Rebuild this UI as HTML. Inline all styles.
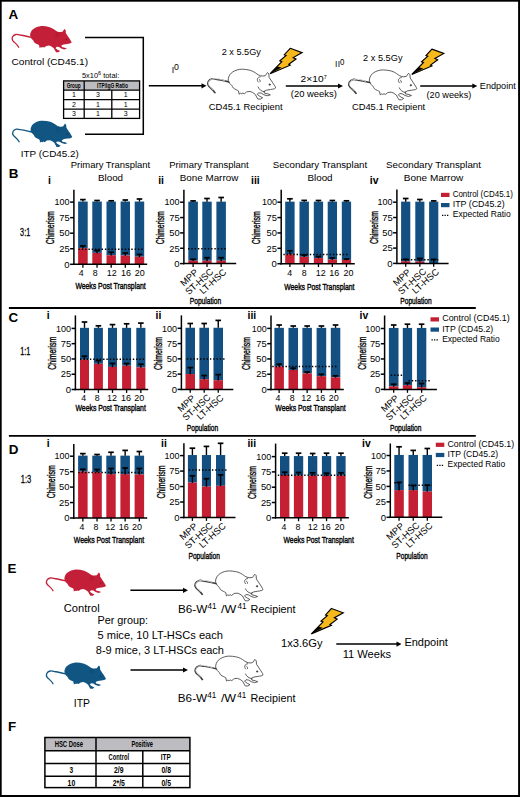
<!DOCTYPE html><html><head><meta charset="utf-8"><style>html,body{margin:0;padding:0;background:#fff;}svg{display:block;}text{font-family:"Liberation Sans", sans-serif;}</style></head><body>
<svg width="520" height="797" viewBox="0 0 520 797">
<rect x="0" y="0" width="520" height="797" fill="#fff"/>
<text x="8.50" y="19.00" font-size="13.40" font-weight="bold">A</text>
<g transform="translate(11.70,26.00) scale(1.000)">
<path d="M19.6,11.4 C15,10.2 11,9.2 8.3,9.0 C6.5,8.6 5.3,8.3 4.2,8.5 C0.8,9.3 -0.6,12.5 1.2,14.8 C2.8,16.8 5.6,18.2 7,21.2" fill="none" stroke="#c41f38" stroke-width="1.3" stroke-linecap="round"/>
<path d="M18.4,9.8 C18.3,7.4 19.2,5.2 21,3.5 C22.8,1.9 25,0.8 28.5,0.2 C31.5,-0.1 35,0.4 38.1,1.2 C39.8,1.8 41,2.5 42.1,3.2 C43.2,4.0 44,4.7 45,5.2 C46.2,5.8 47.5,6.1 48.5,6.1 L50.8,5.8 L52.8,3.0 L54.0,4.3 L54.2,7.2 C55,8.4 55.8,9.6 56.5,10.7 C57.4,12 58.2,13.2 58.8,14.2 C59.4,15.1 59.8,15.8 60,16.5 L58.8,17.3 C57.5,17.6 56.4,17.8 55.4,17.9 L51.9,18.5 L49.6,19.6 L50.2,21.1 L53.1,21.7 L55.3,22.6 L52.5,23.4 L49.6,22.5 L47.3,21.1 L45,20.8 L43.8,22.2 L46.2,24 L48.5,25.1 L46.7,26.3 L44.4,26.3 L43.3,24.5 L42.1,22.2 L39.8,20.5 L37.5,19.6 L34.6,19.9 L34.3,20.2 L32.5,21.6 L31.2,21.0 L30.2,21.6 L29.0,21.2 L27.9,22.0 L27.3,19.1 C26.5,18.6 26,18.4 25.6,18.2 C24.4,17.6 23.4,17.2 22.7,16.5 C22.2,15.8 21.9,15.1 21.6,14.5 C20.9,13.8 20.3,13.3 19.8,12.7 Z" fill="#c41f38"/>
<path d="M47.2,7.6 C44.8,6.4 43.2,8.6 45.0,11.3 M46.0,8.4 C47.2,8.8 47.6,10.0 47.0,11.0" fill="none" stroke="#000" stroke-opacity="0.25" stroke-width="0.55"/>
<ellipse cx="54.8" cy="13.6" rx="0.8" ry="0.6" fill="#000" fill-opacity="0.4"/>
</g>
<text x="11.50" y="64.70" font-size="9.90" textLength="76.50" lengthAdjust="spacingAndGlyphs">Control (CD45.1)</text>
<path d="M85,37.5 L143.3,37.5 L143.3,134.3 L85,134.3" fill="none" stroke="#000" stroke-width="1.5"/>
<text x="82.00" y="78.00" font-size="7.40">5x10<tspan dy="-2.6" font-size="5.6">6</tspan><tspan dy="2.6"> total:</tspan></text>
<rect x="63.60" y="80.90" width="76.00" height="9.30" fill="#bdbdc1"/>
<g stroke="#000" stroke-width="1.3" fill="none">
<rect x="63.60" y="80.90" width="76.00" height="37.50"/>
<line x1="63.60" y1="90.20" x2="139.60" y2="90.20"/>
<line x1="63.60" y1="99.60" x2="139.60" y2="99.60"/>
<line x1="63.60" y1="109.20" x2="139.60" y2="109.20"/>
<line x1="84.20" y1="80.90" x2="84.20" y2="118.40"/>
<line x1="111.80" y1="90.20" x2="111.80" y2="118.40"/>
</g>
<text x="73.60" y="87.50" font-size="6.60" text-anchor="middle" textLength="13.90" lengthAdjust="spacingAndGlyphs" font-weight="bold">Group</text>
<text x="112.50" y="87.50" font-size="6.60" text-anchor="middle" textLength="30.80" lengthAdjust="spacingAndGlyphs" font-weight="bold">ITP/IgG Ratio</text>
<text x="73.90" y="97.30" font-size="7.00" text-anchor="middle">1</text>
<text x="98.00" y="97.30" font-size="7.00" text-anchor="middle">3</text>
<text x="125.70" y="97.30" font-size="7.00" text-anchor="middle">1</text>
<text x="73.90" y="106.80" font-size="7.00" text-anchor="middle">2</text>
<text x="98.00" y="106.80" font-size="7.00" text-anchor="middle">1</text>
<text x="125.70" y="106.80" font-size="7.00" text-anchor="middle">1</text>
<text x="73.90" y="116.20" font-size="7.00" text-anchor="middle">3</text>
<text x="98.00" y="116.20" font-size="7.00" text-anchor="middle">1</text>
<text x="125.70" y="116.20" font-size="7.00" text-anchor="middle">3</text>
<g transform="translate(12.20,120.60) scale(1.000)">
<path d="M19.6,11.4 C15,10.2 11,9.2 8.3,9.0 C6.5,8.6 5.3,8.3 4.2,8.5 C0.8,9.3 -0.6,12.5 1.2,14.8 C2.8,16.8 5.6,18.2 7,21.2" fill="none" stroke="#115683" stroke-width="1.3" stroke-linecap="round"/>
<path d="M18.4,9.8 C18.3,7.4 19.2,5.2 21,3.5 C22.8,1.9 25,0.8 28.5,0.2 C31.5,-0.1 35,0.4 38.1,1.2 C39.8,1.8 41,2.5 42.1,3.2 C43.2,4.0 44,4.7 45,5.2 C46.2,5.8 47.5,6.1 48.5,6.1 L50.8,5.8 L52.8,3.0 L54.0,4.3 L54.2,7.2 C55,8.4 55.8,9.6 56.5,10.7 C57.4,12 58.2,13.2 58.8,14.2 C59.4,15.1 59.8,15.8 60,16.5 L58.8,17.3 C57.5,17.6 56.4,17.8 55.4,17.9 L51.9,18.5 L49.6,19.6 L50.2,21.1 L53.1,21.7 L55.3,22.6 L52.5,23.4 L49.6,22.5 L47.3,21.1 L45,20.8 L43.8,22.2 L46.2,24 L48.5,25.1 L46.7,26.3 L44.4,26.3 L43.3,24.5 L42.1,22.2 L39.8,20.5 L37.5,19.6 L34.6,19.9 L34.3,20.2 L32.5,21.6 L31.2,21.0 L30.2,21.6 L29.0,21.2 L27.9,22.0 L27.3,19.1 C26.5,18.6 26,18.4 25.6,18.2 C24.4,17.6 23.4,17.2 22.7,16.5 C22.2,15.8 21.9,15.1 21.6,14.5 C20.9,13.8 20.3,13.3 19.8,12.7 Z" fill="#115683"/>
<path d="M47.2,7.6 C44.8,6.4 43.2,8.6 45.0,11.3 M46.0,8.4 C47.2,8.8 47.6,10.0 47.0,11.0" fill="none" stroke="#000" stroke-opacity="0.25" stroke-width="0.55"/>
<ellipse cx="54.8" cy="13.6" rx="0.8" ry="0.6" fill="#000" fill-opacity="0.4"/>
</g>
<text x="20.80" y="156.80" font-size="9.90" textLength="58.00" lengthAdjust="spacingAndGlyphs">ITP (CD45.2)</text>
<line x1="148.80" y1="85.80" x2="202.00" y2="85.80" stroke="#000" stroke-width="1.50"/>
<path d="M206.50,85.80 L201.50,83.20 L201.50,88.40 Z" fill="#000"/>
<text x="171.80" y="72.70" font-size="8.80">I</text>
<text x="173.90" y="70.40" font-size="9.00" textLength="4.90" lengthAdjust="spacingAndGlyphs">0</text>
<text x="221.70" y="54.80" font-size="8.60" textLength="39.20" lengthAdjust="spacingAndGlyphs">2 x 5.5Gy</text>
<g transform="translate(207.30,69.10) scale(1.140)" fill="none" stroke="#3a3a3a" stroke-width="0.72" stroke-linejoin="round">
<path d="M19.6,11.4 C15,10.2 11,9.2 8.3,9.0 C6.5,8.6 5.3,8.3 4.2,8.5 C0.8,9.3 -0.6,12.5 1.2,14.8 C2.8,16.8 5.6,18.2 7,21.2" stroke-width="1.45"/>
<path d="M15.5,10.2 C12,9.0 8,7.8 4.4,8.6 C1.4,9.4 0.2,12.2 1.6,14.4 C2.8,16.2 4.4,17.4 5.4,18.6" stroke="#fff" stroke-width="0.6"/>
<path d="M18.4,9.8 C18.3,7.4 19.2,5.2 21,3.5 C22.8,1.9 25,0.8 28.5,0.2 C31.5,-0.1 35,0.4 38.1,1.2 C39.8,1.8 41,2.5 42.1,3.2 C43.2,4.0 44,4.7 45,5.2 C46.2,5.8 47.5,6.1 48.5,6.1 L50.8,5.8 L52.8,3.0 L54.0,4.3 L54.2,7.2 C55,8.4 55.8,9.6 56.5,10.7 C57.4,12 58.2,13.2 58.8,14.2 C59.4,15.1 59.8,15.8 60,16.5 L58.8,17.3 C57.5,17.6 56.4,17.8 55.4,17.9 L51.9,18.5 L49.6,19.6 L50.2,21.1 L53.1,21.7 L55.3,22.6 L52.5,23.4 L49.6,22.5 L47.3,21.1 L45,20.8 L43.8,22.2 L46.2,24 L48.5,25.1 L46.7,26.3 L44.4,26.3 L43.3,24.5 L42.1,22.2 L39.8,20.5 L37.5,19.6 L34.6,19.9 L34.3,20.2 L32.5,21.6 L31.2,21.0 L30.2,21.6 L29.0,21.2 L27.9,22.0 L27.3,19.1 C26.5,18.6 26,18.4 25.6,18.2 C24.4,17.6 23.4,17.2 22.7,16.5 C22.2,15.8 21.9,15.1 21.6,14.5 C20.9,13.8 20.3,13.3 19.8,12.7 Z" fill="#fff"/>
<path d="M46.8,6.8 C43.8,6.8 43.0,9.8 45.0,11.6 M45.4,9.0 C46.4,9.4 46.6,10.6 46.2,11.4"/>
<path d="M44.5,15.5 C45.5,18.0 47.5,19.5 50.6,20.0"/>
<circle cx="54.8" cy="13.6" r="0.6" fill="#333"/>
</g>
<g transform="translate(269.80,47.80) scale(1.000)">
<path d="M20.4,0.5 L32.3,4.8 L23.4,9.8 L26.2,11.2 L19.0,16.5 L20.4,17.4 L0.3,25.9 L12.0,13.9 L10.0,13.1 L16.3,7.6 L14.5,6.9 Z" fill="#f7b81c" stroke="#000" stroke-width="1.15" stroke-linejoin="miter"/>
<path d="M0.3,25.9 L7.4,18.6 L11.8,19.8 Z" fill="#000"/>
</g>
<text x="208.80" y="110.00" font-size="9.80" textLength="73.90" lengthAdjust="spacingAndGlyphs">CD45.1 Recipient</text>
<line x1="285.80" y1="86.00" x2="338.50" y2="86.00" stroke="#000" stroke-width="1.50"/>
<path d="M343.00,86.00 L338.00,83.40 L338.00,88.60 Z" fill="#000"/>
<text x="300.60" y="81.90" font-size="8.20" textLength="23.00" lengthAdjust="spacingAndGlyphs">2&#215;10</text>
<text x="323.80" y="79.00" font-size="5.80" textLength="3.00" lengthAdjust="spacingAndGlyphs">7</text>
<text x="290.80" y="97.40" font-size="9.00" textLength="46.00" lengthAdjust="spacingAndGlyphs">(20 weeks)</text>
<text x="334.90" y="67.20" font-size="8.40">I</text>
<text x="337.80" y="67.20" font-size="8.40">I</text>
<text x="339.90" y="64.90" font-size="8.40" textLength="4.40" lengthAdjust="spacingAndGlyphs">0</text>
<text x="363.10" y="60.80" font-size="8.60" textLength="39.40" lengthAdjust="spacingAndGlyphs">2 x 5.5Gy</text>
<g transform="translate(348.40,69.80) scale(1.140)" fill="none" stroke="#3a3a3a" stroke-width="0.72" stroke-linejoin="round">
<path d="M19.6,11.4 C15,10.2 11,9.2 8.3,9.0 C6.5,8.6 5.3,8.3 4.2,8.5 C0.8,9.3 -0.6,12.5 1.2,14.8 C2.8,16.8 5.6,18.2 7,21.2" stroke-width="1.45"/>
<path d="M15.5,10.2 C12,9.0 8,7.8 4.4,8.6 C1.4,9.4 0.2,12.2 1.6,14.4 C2.8,16.2 4.4,17.4 5.4,18.6" stroke="#fff" stroke-width="0.6"/>
<path d="M18.4,9.8 C18.3,7.4 19.2,5.2 21,3.5 C22.8,1.9 25,0.8 28.5,0.2 C31.5,-0.1 35,0.4 38.1,1.2 C39.8,1.8 41,2.5 42.1,3.2 C43.2,4.0 44,4.7 45,5.2 C46.2,5.8 47.5,6.1 48.5,6.1 L50.8,5.8 L52.8,3.0 L54.0,4.3 L54.2,7.2 C55,8.4 55.8,9.6 56.5,10.7 C57.4,12 58.2,13.2 58.8,14.2 C59.4,15.1 59.8,15.8 60,16.5 L58.8,17.3 C57.5,17.6 56.4,17.8 55.4,17.9 L51.9,18.5 L49.6,19.6 L50.2,21.1 L53.1,21.7 L55.3,22.6 L52.5,23.4 L49.6,22.5 L47.3,21.1 L45,20.8 L43.8,22.2 L46.2,24 L48.5,25.1 L46.7,26.3 L44.4,26.3 L43.3,24.5 L42.1,22.2 L39.8,20.5 L37.5,19.6 L34.6,19.9 L34.3,20.2 L32.5,21.6 L31.2,21.0 L30.2,21.6 L29.0,21.2 L27.9,22.0 L27.3,19.1 C26.5,18.6 26,18.4 25.6,18.2 C24.4,17.6 23.4,17.2 22.7,16.5 C22.2,15.8 21.9,15.1 21.6,14.5 C20.9,13.8 20.3,13.3 19.8,12.7 Z" fill="#fff"/>
<path d="M46.8,6.8 C43.8,6.8 43.0,9.8 45.0,11.6 M45.4,9.0 C46.4,9.4 46.6,10.6 46.2,11.4"/>
<path d="M44.5,15.5 C45.5,18.0 47.5,19.5 50.6,20.0"/>
<circle cx="54.8" cy="13.6" r="0.6" fill="#333"/>
</g>
<g transform="translate(411.50,48.60) scale(1.000)">
<path d="M20.4,0.5 L32.3,4.8 L23.4,9.8 L26.2,11.2 L19.0,16.5 L20.4,17.4 L0.3,25.9 L12.0,13.9 L10.0,13.1 L16.3,7.6 L14.5,6.9 Z" fill="#f7b81c" stroke="#000" stroke-width="1.15" stroke-linejoin="miter"/>
<path d="M0.3,25.9 L7.4,18.6 L11.8,19.8 Z" fill="#000"/>
</g>
<text x="351.90" y="110.00" font-size="9.80" textLength="73.30" lengthAdjust="spacingAndGlyphs">CD45.1 Recipient</text>
<line x1="420.20" y1="86.00" x2="472.80" y2="86.00" stroke="#000" stroke-width="1.50"/>
<path d="M477.30,86.00 L472.30,83.40 L472.30,88.60 Z" fill="#000"/>
<text x="426.50" y="98.00" font-size="9.00" textLength="44.80" lengthAdjust="spacingAndGlyphs">(20 weeks)</text>
<text x="479.80" y="89.00" font-size="9.20" textLength="36.00" lengthAdjust="spacingAndGlyphs">Endpoint</text>
<text x="8.80" y="177.90" font-size="13.40" font-weight="bold">B</text>
<text x="20.10" y="235.90" font-size="11.30" textLength="10.10" lengthAdjust="spacingAndGlyphs" stroke="#000" stroke-width="0.3">3:1</text>
<text x="110.50" y="168.20" font-size="9.60" text-anchor="middle" textLength="79.40" lengthAdjust="spacingAndGlyphs">Primary Transplant</text>
<text x="110.50" y="180.60" font-size="9.60" text-anchor="middle" textLength="25.20" lengthAdjust="spacingAndGlyphs">Blood</text>
<text x="209.00" y="168.20" font-size="9.60" text-anchor="middle" textLength="79.40" lengthAdjust="spacingAndGlyphs">Primary Transplant</text>
<text x="209.00" y="180.60" font-size="9.60" text-anchor="middle" textLength="58.50" lengthAdjust="spacingAndGlyphs">Bone Marrow</text>
<text x="320.00" y="168.20" font-size="9.60" text-anchor="middle" textLength="94.30" lengthAdjust="spacingAndGlyphs">Secondary Transplant</text>
<text x="320.00" y="180.60" font-size="9.60" text-anchor="middle" textLength="25.20" lengthAdjust="spacingAndGlyphs">Blood</text>
<text x="433.50" y="168.20" font-size="9.60" text-anchor="middle" textLength="95.00" lengthAdjust="spacingAndGlyphs">Secondary Transplant</text>
<text x="433.50" y="180.60" font-size="9.60" text-anchor="middle" textLength="59.50" lengthAdjust="spacingAndGlyphs">Bone Marrow</text>
<text x="48.00" y="184.20" font-size="10.40" font-weight="bold">i</text>
<text x="158.20" y="184.20" font-size="10.40" font-weight="bold">ii</text>
<text x="251.00" y="184.20" font-size="10.40" font-weight="bold">iii</text>
<text x="369.80" y="184.20" font-size="10.40" font-weight="bold">iv</text>
<rect x="78.10" y="201.54" width="9.60" height="46.65" fill="#134f81"/>
<rect x="78.10" y="248.19" width="9.60" height="16.11" fill="#c41f32"/>
<rect x="92.30" y="201.54" width="9.50" height="51.32" fill="#134f81"/>
<rect x="92.30" y="252.86" width="9.50" height="11.44" fill="#c41f32"/>
<rect x="106.50" y="201.54" width="9.40" height="53.68" fill="#134f81"/>
<rect x="106.50" y="255.22" width="9.40" height="9.08" fill="#c41f32"/>
<rect x="120.60" y="201.54" width="9.40" height="53.99" fill="#134f81"/>
<rect x="120.60" y="255.53" width="9.40" height="8.77" fill="#c41f32"/>
<rect x="134.70" y="201.54" width="9.50" height="55.17" fill="#134f81"/>
<rect x="134.70" y="256.71" width="9.50" height="7.59" fill="#c41f32"/>
<line x1="82.90" y1="201.54" x2="82.90" y2="199.60" stroke="#000" stroke-width="1.40"/>
<line x1="80.10" y1="199.60" x2="85.70" y2="199.60" stroke="#000" stroke-width="1.70"/>
<line x1="82.90" y1="246.00" x2="82.90" y2="248.49" stroke="#000" stroke-width="1.40"/>
<line x1="80.10" y1="246.00" x2="85.70" y2="246.00" stroke="#000" stroke-width="1.70"/>
<line x1="97.05" y1="201.54" x2="97.05" y2="200.50" stroke="#000" stroke-width="1.40"/>
<line x1="94.25" y1="200.50" x2="99.85" y2="200.50" stroke="#000" stroke-width="1.70"/>
<line x1="97.05" y1="250.50" x2="97.05" y2="253.16" stroke="#000" stroke-width="1.40"/>
<line x1="94.25" y1="250.50" x2="99.85" y2="250.50" stroke="#000" stroke-width="1.70"/>
<line x1="111.20" y1="201.54" x2="111.20" y2="200.80" stroke="#000" stroke-width="1.40"/>
<line x1="108.40" y1="200.80" x2="114.00" y2="200.80" stroke="#000" stroke-width="1.70"/>
<line x1="111.20" y1="252.20" x2="111.20" y2="255.52" stroke="#000" stroke-width="1.40"/>
<line x1="108.40" y1="252.20" x2="114.00" y2="252.20" stroke="#000" stroke-width="1.70"/>
<line x1="125.30" y1="201.54" x2="125.30" y2="200.00" stroke="#000" stroke-width="1.40"/>
<line x1="122.50" y1="200.00" x2="128.10" y2="200.00" stroke="#000" stroke-width="1.70"/>
<line x1="125.30" y1="253.00" x2="125.30" y2="255.83" stroke="#000" stroke-width="1.40"/>
<line x1="122.50" y1="253.00" x2="128.10" y2="253.00" stroke="#000" stroke-width="1.70"/>
<line x1="139.45" y1="201.54" x2="139.45" y2="199.00" stroke="#000" stroke-width="1.40"/>
<line x1="136.65" y1="199.00" x2="142.25" y2="199.00" stroke="#000" stroke-width="1.70"/>
<line x1="139.45" y1="254.40" x2="139.45" y2="257.01" stroke="#000" stroke-width="1.40"/>
<line x1="136.65" y1="254.40" x2="142.25" y2="254.40" stroke="#000" stroke-width="1.70"/>
<line x1="78.50" y1="249.30" x2="144.20" y2="249.30" stroke="#000" stroke-width="1.50" stroke-dasharray="1.4,1.9"/>
<line x1="73.90" y1="189.80" x2="73.90" y2="265.00" stroke="#000" stroke-width="1.50"/>
<line x1="73.15" y1="264.30" x2="147.20" y2="264.30" stroke="#000" stroke-width="1.50"/>
<line x1="70.10" y1="264.30" x2="73.90" y2="264.30" stroke="#000" stroke-width="1.50"/>
<text x="69.60" y="267.55" font-size="9.30" text-anchor="end" textLength="5.30" lengthAdjust="spacingAndGlyphs">0</text>
<line x1="70.10" y1="248.75" x2="73.90" y2="248.75" stroke="#000" stroke-width="1.50"/>
<text x="69.60" y="252.00" font-size="9.30" text-anchor="end" textLength="10.40" lengthAdjust="spacingAndGlyphs">25</text>
<line x1="70.10" y1="233.20" x2="73.90" y2="233.20" stroke="#000" stroke-width="1.50"/>
<text x="69.60" y="236.45" font-size="9.30" text-anchor="end" textLength="10.40" lengthAdjust="spacingAndGlyphs">50</text>
<line x1="70.10" y1="217.65" x2="73.90" y2="217.65" stroke="#000" stroke-width="1.50"/>
<text x="69.60" y="220.90" font-size="9.30" text-anchor="end" textLength="10.40" lengthAdjust="spacingAndGlyphs">75</text>
<line x1="70.10" y1="202.10" x2="73.90" y2="202.10" stroke="#000" stroke-width="1.50"/>
<text x="69.60" y="205.35" font-size="9.30" text-anchor="end" textLength="15.00" lengthAdjust="spacingAndGlyphs">100</text>
<line x1="82.90" y1="264.30" x2="82.90" y2="267.70" stroke="#000" stroke-width="1.30"/>
<line x1="97.05" y1="264.30" x2="97.05" y2="267.70" stroke="#000" stroke-width="1.30"/>
<line x1="111.20" y1="264.30" x2="111.20" y2="267.70" stroke="#000" stroke-width="1.30"/>
<line x1="125.30" y1="264.30" x2="125.30" y2="267.70" stroke="#000" stroke-width="1.30"/>
<line x1="139.45" y1="264.30" x2="139.45" y2="267.70" stroke="#000" stroke-width="1.30"/>
<text x="0.00" y="0.00" font-size="11.00" text-anchor="middle" textLength="33.00" lengthAdjust="spacingAndGlyphs" stroke="#000" stroke-width="0.35" transform="translate(53.60,227.80) rotate(-90)">Chimerism</text>
<text x="81.10" y="276.20" font-size="8.40" text-anchor="middle" textLength="4.90" lengthAdjust="spacingAndGlyphs">4</text>
<text x="95.25" y="276.20" font-size="8.40" text-anchor="middle" textLength="4.90" lengthAdjust="spacingAndGlyphs">8</text>
<text x="111.70" y="276.20" font-size="8.40" text-anchor="middle" textLength="10.00" lengthAdjust="spacingAndGlyphs">12</text>
<text x="126.00" y="276.20" font-size="8.40" text-anchor="middle" textLength="10.00" lengthAdjust="spacingAndGlyphs">16</text>
<text x="139.85" y="276.20" font-size="8.40" text-anchor="middle" textLength="10.00" lengthAdjust="spacingAndGlyphs">20</text>
<text x="75.40" y="289.30" font-size="9.60" textLength="70.30" lengthAdjust="spacingAndGlyphs" stroke="#000" stroke-width="0.4">Weeks Post Transplant</text>
<rect x="188.30" y="201.65" width="9.60" height="59.07" fill="#134f81"/>
<rect x="188.30" y="260.71" width="9.60" height="2.89" fill="#c41f32"/>
<rect x="202.30" y="201.65" width="9.40" height="59.07" fill="#134f81"/>
<rect x="202.30" y="260.71" width="9.40" height="2.89" fill="#c41f32"/>
<rect x="216.40" y="201.65" width="9.50" height="59.07" fill="#134f81"/>
<rect x="216.40" y="260.71" width="9.50" height="2.89" fill="#c41f32"/>
<line x1="193.10" y1="201.65" x2="193.10" y2="200.90" stroke="#000" stroke-width="1.40"/>
<line x1="190.30" y1="200.90" x2="195.90" y2="200.90" stroke="#000" stroke-width="1.70"/>
<line x1="193.10" y1="259.30" x2="193.10" y2="261.01" stroke="#000" stroke-width="1.40"/>
<line x1="190.30" y1="259.30" x2="195.90" y2="259.30" stroke="#000" stroke-width="1.70"/>
<line x1="207.00" y1="201.65" x2="207.00" y2="198.50" stroke="#000" stroke-width="1.40"/>
<line x1="204.20" y1="198.50" x2="209.80" y2="198.50" stroke="#000" stroke-width="1.70"/>
<line x1="207.00" y1="257.70" x2="207.00" y2="261.01" stroke="#000" stroke-width="1.40"/>
<line x1="204.20" y1="257.70" x2="209.80" y2="257.70" stroke="#000" stroke-width="1.70"/>
<line x1="221.15" y1="201.65" x2="221.15" y2="197.50" stroke="#000" stroke-width="1.40"/>
<line x1="218.35" y1="197.50" x2="223.95" y2="197.50" stroke="#000" stroke-width="1.70"/>
<line x1="221.15" y1="257.70" x2="221.15" y2="261.01" stroke="#000" stroke-width="1.40"/>
<line x1="218.35" y1="257.70" x2="223.95" y2="257.70" stroke="#000" stroke-width="1.70"/>
<line x1="188.00" y1="248.70" x2="226.30" y2="248.70" stroke="#000" stroke-width="1.50" stroke-dasharray="1.4,1.9"/>
<line x1="183.90" y1="189.80" x2="183.90" y2="264.30" stroke="#000" stroke-width="1.50"/>
<line x1="183.15" y1="263.60" x2="236.20" y2="263.60" stroke="#000" stroke-width="1.50"/>
<line x1="180.10" y1="263.60" x2="183.90" y2="263.60" stroke="#000" stroke-width="1.50"/>
<text x="179.60" y="266.85" font-size="9.30" text-anchor="end" textLength="5.30" lengthAdjust="spacingAndGlyphs">0</text>
<line x1="180.10" y1="248.25" x2="183.90" y2="248.25" stroke="#000" stroke-width="1.50"/>
<text x="179.60" y="251.50" font-size="9.30" text-anchor="end" textLength="10.40" lengthAdjust="spacingAndGlyphs">25</text>
<line x1="180.10" y1="232.90" x2="183.90" y2="232.90" stroke="#000" stroke-width="1.50"/>
<text x="179.60" y="236.15" font-size="9.30" text-anchor="end" textLength="10.40" lengthAdjust="spacingAndGlyphs">50</text>
<line x1="180.10" y1="217.55" x2="183.90" y2="217.55" stroke="#000" stroke-width="1.50"/>
<text x="179.60" y="220.80" font-size="9.30" text-anchor="end" textLength="10.40" lengthAdjust="spacingAndGlyphs">75</text>
<line x1="180.10" y1="202.20" x2="183.90" y2="202.20" stroke="#000" stroke-width="1.50"/>
<text x="179.60" y="205.45" font-size="9.30" text-anchor="end" textLength="15.00" lengthAdjust="spacingAndGlyphs">100</text>
<line x1="193.10" y1="263.60" x2="193.10" y2="267.00" stroke="#000" stroke-width="1.30"/>
<line x1="207.00" y1="263.60" x2="207.00" y2="267.00" stroke="#000" stroke-width="1.30"/>
<line x1="221.15" y1="263.60" x2="221.15" y2="267.00" stroke="#000" stroke-width="1.30"/>
<text x="0.00" y="0.00" font-size="11.00" text-anchor="middle" textLength="33.00" lengthAdjust="spacingAndGlyphs" stroke="#000" stroke-width="0.35" transform="translate(164.30,227.80) rotate(-90)">Chimerism</text>
<text x="0.00" y="0.00" font-size="9.30" text-anchor="end" transform="translate(198.80,273.20) rotate(-42)">MPP</text>
<text x="0.00" y="0.00" font-size="9.30" text-anchor="end" transform="translate(214.05,272.50) rotate(-42)">ST-HSC</text>
<text x="0.00" y="0.00" font-size="9.30" text-anchor="end" transform="translate(227.10,272.90) rotate(-42)">LT-HSC</text>
<text x="189.80" y="303.60" font-size="9.70" textLength="31.40" lengthAdjust="spacingAndGlyphs" stroke="#000" stroke-width="0.4">Population</text>
<rect x="285.20" y="201.65" width="9.40" height="52.58" fill="#134f81"/>
<rect x="285.20" y="254.23" width="9.40" height="9.47" fill="#c41f32"/>
<rect x="299.50" y="201.65" width="9.40" height="55.17" fill="#134f81"/>
<rect x="299.50" y="256.81" width="9.40" height="6.89" fill="#c41f32"/>
<rect x="313.80" y="201.65" width="9.30" height="56.46" fill="#134f81"/>
<rect x="313.80" y="258.10" width="9.30" height="5.60" fill="#c41f32"/>
<rect x="327.70" y="201.65" width="9.30" height="57.93" fill="#134f81"/>
<rect x="327.70" y="259.58" width="9.30" height="4.12" fill="#c41f32"/>
<rect x="341.80" y="201.65" width="9.30" height="58.24" fill="#134f81"/>
<rect x="341.80" y="259.89" width="9.30" height="3.81" fill="#c41f32"/>
<line x1="289.90" y1="201.65" x2="289.90" y2="198.80" stroke="#000" stroke-width="1.40"/>
<line x1="287.10" y1="198.80" x2="292.70" y2="198.80" stroke="#000" stroke-width="1.70"/>
<line x1="289.90" y1="250.80" x2="289.90" y2="254.53" stroke="#000" stroke-width="1.40"/>
<line x1="287.10" y1="250.80" x2="292.70" y2="250.80" stroke="#000" stroke-width="1.70"/>
<line x1="304.20" y1="201.65" x2="304.20" y2="200.40" stroke="#000" stroke-width="1.40"/>
<line x1="301.40" y1="200.40" x2="307.00" y2="200.40" stroke="#000" stroke-width="1.70"/>
<line x1="304.20" y1="255.00" x2="304.20" y2="257.11" stroke="#000" stroke-width="1.40"/>
<line x1="301.40" y1="255.00" x2="307.00" y2="255.00" stroke="#000" stroke-width="1.70"/>
<line x1="318.45" y1="201.65" x2="318.45" y2="200.50" stroke="#000" stroke-width="1.40"/>
<line x1="315.65" y1="200.50" x2="321.25" y2="200.50" stroke="#000" stroke-width="1.70"/>
<line x1="318.45" y1="256.50" x2="318.45" y2="258.40" stroke="#000" stroke-width="1.40"/>
<line x1="315.65" y1="256.50" x2="321.25" y2="256.50" stroke="#000" stroke-width="1.70"/>
<line x1="332.35" y1="201.65" x2="332.35" y2="200.50" stroke="#000" stroke-width="1.40"/>
<line x1="329.55" y1="200.50" x2="335.15" y2="200.50" stroke="#000" stroke-width="1.70"/>
<line x1="332.35" y1="258.00" x2="332.35" y2="259.88" stroke="#000" stroke-width="1.40"/>
<line x1="329.55" y1="258.00" x2="335.15" y2="258.00" stroke="#000" stroke-width="1.70"/>
<line x1="346.45" y1="201.65" x2="346.45" y2="200.80" stroke="#000" stroke-width="1.40"/>
<line x1="343.65" y1="200.80" x2="349.25" y2="200.80" stroke="#000" stroke-width="1.70"/>
<line x1="346.45" y1="259.00" x2="346.45" y2="260.19" stroke="#000" stroke-width="1.40"/>
<line x1="343.65" y1="259.00" x2="349.25" y2="259.00" stroke="#000" stroke-width="1.70"/>
<line x1="283.40" y1="254.50" x2="349.50" y2="254.50" stroke="#000" stroke-width="1.50" stroke-dasharray="1.4,1.9"/>
<line x1="281.20" y1="189.80" x2="281.20" y2="264.40" stroke="#000" stroke-width="1.50"/>
<line x1="280.45" y1="263.70" x2="354.80" y2="263.70" stroke="#000" stroke-width="1.50"/>
<line x1="277.40" y1="263.70" x2="281.20" y2="263.70" stroke="#000" stroke-width="1.50"/>
<text x="276.90" y="266.95" font-size="9.30" text-anchor="end" textLength="5.30" lengthAdjust="spacingAndGlyphs">0</text>
<line x1="277.40" y1="248.32" x2="281.20" y2="248.32" stroke="#000" stroke-width="1.50"/>
<text x="276.90" y="251.57" font-size="9.30" text-anchor="end" textLength="10.40" lengthAdjust="spacingAndGlyphs">25</text>
<line x1="277.40" y1="232.95" x2="281.20" y2="232.95" stroke="#000" stroke-width="1.50"/>
<text x="276.90" y="236.20" font-size="9.30" text-anchor="end" textLength="10.40" lengthAdjust="spacingAndGlyphs">50</text>
<line x1="277.40" y1="217.57" x2="281.20" y2="217.57" stroke="#000" stroke-width="1.50"/>
<text x="276.90" y="220.82" font-size="9.30" text-anchor="end" textLength="10.40" lengthAdjust="spacingAndGlyphs">75</text>
<line x1="277.40" y1="202.20" x2="281.20" y2="202.20" stroke="#000" stroke-width="1.50"/>
<text x="276.90" y="205.45" font-size="9.30" text-anchor="end" textLength="15.00" lengthAdjust="spacingAndGlyphs">100</text>
<line x1="289.90" y1="263.70" x2="289.90" y2="267.10" stroke="#000" stroke-width="1.30"/>
<line x1="304.20" y1="263.70" x2="304.20" y2="267.10" stroke="#000" stroke-width="1.30"/>
<line x1="318.45" y1="263.70" x2="318.45" y2="267.10" stroke="#000" stroke-width="1.30"/>
<line x1="332.35" y1="263.70" x2="332.35" y2="267.10" stroke="#000" stroke-width="1.30"/>
<line x1="346.45" y1="263.70" x2="346.45" y2="267.10" stroke="#000" stroke-width="1.30"/>
<text x="0.00" y="0.00" font-size="11.00" text-anchor="middle" textLength="33.00" lengthAdjust="spacingAndGlyphs" stroke="#000" stroke-width="0.35" transform="translate(260.20,227.80) rotate(-90)">Chimerism</text>
<text x="289.60" y="276.20" font-size="8.40" text-anchor="middle" textLength="4.90" lengthAdjust="spacingAndGlyphs">4</text>
<text x="304.20" y="276.20" font-size="8.40" text-anchor="middle" textLength="4.90" lengthAdjust="spacingAndGlyphs">8</text>
<text x="320.65" y="276.20" font-size="8.40" text-anchor="middle" textLength="10.00" lengthAdjust="spacingAndGlyphs">12</text>
<text x="334.35" y="276.20" font-size="8.40" text-anchor="middle" textLength="10.00" lengthAdjust="spacingAndGlyphs">16</text>
<text x="348.45" y="276.20" font-size="8.40" text-anchor="middle" textLength="10.00" lengthAdjust="spacingAndGlyphs">20</text>
<text x="284.20" y="289.60" font-size="9.60" textLength="70.30" lengthAdjust="spacingAndGlyphs" stroke="#000" stroke-width="0.4">Weeks Post Transplant</text>
<rect x="401.10" y="201.65" width="9.20" height="59.61" fill="#134f81"/>
<rect x="401.10" y="261.26" width="9.20" height="2.14" fill="#c41f32"/>
<rect x="415.30" y="201.65" width="9.10" height="59.91" fill="#134f81"/>
<rect x="415.30" y="261.56" width="9.10" height="1.84" fill="#c41f32"/>
<rect x="429.10" y="201.65" width="9.20" height="61.38" fill="#134f81"/>
<rect x="429.10" y="263.03" width="9.20" height="0.37" fill="#c41f32"/>
<line x1="405.70" y1="201.65" x2="405.70" y2="198.50" stroke="#000" stroke-width="1.40"/>
<line x1="402.90" y1="198.50" x2="408.50" y2="198.50" stroke="#000" stroke-width="1.70"/>
<line x1="405.70" y1="259.30" x2="405.70" y2="261.56" stroke="#000" stroke-width="1.40"/>
<line x1="402.90" y1="259.30" x2="408.50" y2="259.30" stroke="#000" stroke-width="1.70"/>
<line x1="419.85" y1="201.65" x2="419.85" y2="199.50" stroke="#000" stroke-width="1.40"/>
<line x1="417.05" y1="199.50" x2="422.65" y2="199.50" stroke="#000" stroke-width="1.70"/>
<line x1="419.85" y1="258.40" x2="419.85" y2="261.86" stroke="#000" stroke-width="1.40"/>
<line x1="417.05" y1="258.40" x2="422.65" y2="258.40" stroke="#000" stroke-width="1.70"/>
<line x1="433.70" y1="201.65" x2="433.70" y2="200.90" stroke="#000" stroke-width="1.40"/>
<line x1="430.90" y1="200.90" x2="436.50" y2="200.90" stroke="#000" stroke-width="1.70"/>
<line x1="433.70" y1="259.40" x2="433.70" y2="263.33" stroke="#000" stroke-width="1.40"/>
<line x1="430.90" y1="259.40" x2="436.50" y2="259.40" stroke="#000" stroke-width="1.70"/>
<line x1="401.00" y1="259.70" x2="438.30" y2="259.70" stroke="#000" stroke-width="1.50" stroke-dasharray="1.4,1.9"/>
<line x1="396.90" y1="189.50" x2="396.90" y2="264.10" stroke="#000" stroke-width="1.50"/>
<line x1="396.15" y1="263.40" x2="448.60" y2="263.40" stroke="#000" stroke-width="1.50"/>
<line x1="393.10" y1="263.40" x2="396.90" y2="263.40" stroke="#000" stroke-width="1.50"/>
<text x="392.60" y="266.65" font-size="9.30" text-anchor="end" textLength="5.30" lengthAdjust="spacingAndGlyphs">0</text>
<line x1="393.10" y1="248.10" x2="396.90" y2="248.10" stroke="#000" stroke-width="1.50"/>
<text x="392.60" y="251.35" font-size="9.30" text-anchor="end" textLength="10.40" lengthAdjust="spacingAndGlyphs">25</text>
<line x1="393.10" y1="232.80" x2="396.90" y2="232.80" stroke="#000" stroke-width="1.50"/>
<text x="392.60" y="236.05" font-size="9.30" text-anchor="end" textLength="10.40" lengthAdjust="spacingAndGlyphs">50</text>
<line x1="393.10" y1="217.50" x2="396.90" y2="217.50" stroke="#000" stroke-width="1.50"/>
<text x="392.60" y="220.75" font-size="9.30" text-anchor="end" textLength="10.40" lengthAdjust="spacingAndGlyphs">75</text>
<line x1="393.10" y1="202.20" x2="396.90" y2="202.20" stroke="#000" stroke-width="1.50"/>
<text x="392.60" y="205.45" font-size="9.30" text-anchor="end" textLength="15.00" lengthAdjust="spacingAndGlyphs">100</text>
<line x1="405.70" y1="263.40" x2="405.70" y2="266.80" stroke="#000" stroke-width="1.30"/>
<line x1="419.85" y1="263.40" x2="419.85" y2="266.80" stroke="#000" stroke-width="1.30"/>
<line x1="433.70" y1="263.40" x2="433.70" y2="266.80" stroke="#000" stroke-width="1.30"/>
<text x="0.00" y="0.00" font-size="11.00" text-anchor="middle" textLength="33.00" lengthAdjust="spacingAndGlyphs" stroke="#000" stroke-width="0.35" transform="translate(377.50,227.50) rotate(-90)">Chimerism</text>
<text x="0.00" y="0.00" font-size="9.30" text-anchor="end" transform="translate(411.40,273.00) rotate(-42)">MPP</text>
<text x="0.00" y="0.00" font-size="9.30" text-anchor="end" transform="translate(426.90,272.30) rotate(-42)">ST-HSC</text>
<text x="0.00" y="0.00" font-size="9.30" text-anchor="end" transform="translate(439.65,272.70) rotate(-42)">LT-HSC</text>
<text x="400.30" y="303.60" font-size="9.70" textLength="31.40" lengthAdjust="spacingAndGlyphs" stroke="#000" stroke-width="0.4">Population</text>
<rect x="441.00" y="192.80" width="8.50" height="4.20" fill="#c41f32"/>
<text x="452.70" y="196.90" font-size="8.60" textLength="60.20" lengthAdjust="spacingAndGlyphs">Control (CD45.1)</text>
<rect x="441.00" y="203.00" width="8.50" height="4.20" fill="#134f81"/>
<text x="452.70" y="207.20" font-size="8.60" textLength="52.00" lengthAdjust="spacingAndGlyphs">ITP (CD45.2)</text>
<line x1="442.00" y1="215.40" x2="448.50" y2="215.40" stroke="#000" stroke-width="1.30" stroke-dasharray="1.3,1.2"/>
<text x="452.70" y="217.10" font-size="8.60" textLength="58.00" lengthAdjust="spacingAndGlyphs">Expected Ratio</text>
<line x1="8.90" y1="307.95" x2="475.80" y2="307.95" stroke="#000" stroke-width="1.90"/>
<text x="8.50" y="322.10" font-size="13.40" font-weight="bold">C</text>
<text x="20.20" y="355.20" font-size="11.30" textLength="10.10" lengthAdjust="spacingAndGlyphs" stroke="#000" stroke-width="0.3">1:1</text>
<text x="46.70" y="318.80" font-size="10.40" font-weight="bold">i</text>
<text x="155.50" y="318.80" font-size="10.40" font-weight="bold">ii</text>
<text x="247.50" y="318.80" font-size="10.40" font-weight="bold">iii</text>
<text x="359.50" y="318.80" font-size="10.40" font-weight="bold">iv</text>
<rect x="80.00" y="327.85" width="9.00" height="31.83" fill="#134f81"/>
<rect x="80.00" y="359.68" width="9.00" height="29.82" fill="#c41f32"/>
<rect x="93.90" y="327.85" width="9.00" height="35.93" fill="#134f81"/>
<rect x="93.90" y="363.78" width="9.00" height="25.72" fill="#c41f32"/>
<rect x="108.00" y="327.85" width="9.00" height="39.04" fill="#134f81"/>
<rect x="108.00" y="366.89" width="9.00" height="22.61" fill="#c41f32"/>
<rect x="122.10" y="327.85" width="9.00" height="37.88" fill="#134f81"/>
<rect x="122.10" y="365.73" width="9.00" height="23.77" fill="#c41f32"/>
<rect x="136.30" y="327.85" width="9.10" height="39.53" fill="#134f81"/>
<rect x="136.30" y="367.38" width="9.10" height="22.12" fill="#c41f32"/>
<line x1="84.50" y1="327.85" x2="84.50" y2="322.00" stroke="#000" stroke-width="1.40"/>
<line x1="81.70" y1="322.00" x2="87.30" y2="322.00" stroke="#000" stroke-width="1.70"/>
<line x1="84.50" y1="356.20" x2="84.50" y2="359.98" stroke="#000" stroke-width="1.40"/>
<line x1="81.70" y1="356.20" x2="87.30" y2="356.20" stroke="#000" stroke-width="1.70"/>
<line x1="98.40" y1="327.85" x2="98.40" y2="325.80" stroke="#000" stroke-width="1.40"/>
<line x1="95.60" y1="325.80" x2="101.20" y2="325.80" stroke="#000" stroke-width="1.70"/>
<line x1="98.40" y1="360.50" x2="98.40" y2="364.08" stroke="#000" stroke-width="1.40"/>
<line x1="95.60" y1="360.50" x2="101.20" y2="360.50" stroke="#000" stroke-width="1.70"/>
<line x1="112.50" y1="327.85" x2="112.50" y2="324.60" stroke="#000" stroke-width="1.40"/>
<line x1="109.70" y1="324.60" x2="115.30" y2="324.60" stroke="#000" stroke-width="1.70"/>
<line x1="112.50" y1="363.40" x2="112.50" y2="367.19" stroke="#000" stroke-width="1.40"/>
<line x1="109.70" y1="363.40" x2="115.30" y2="363.40" stroke="#000" stroke-width="1.70"/>
<line x1="126.60" y1="327.85" x2="126.60" y2="323.80" stroke="#000" stroke-width="1.40"/>
<line x1="123.80" y1="323.80" x2="129.40" y2="323.80" stroke="#000" stroke-width="1.70"/>
<line x1="126.60" y1="363.50" x2="126.60" y2="366.03" stroke="#000" stroke-width="1.40"/>
<line x1="123.80" y1="363.50" x2="129.40" y2="363.50" stroke="#000" stroke-width="1.70"/>
<line x1="140.85" y1="327.85" x2="140.85" y2="323.10" stroke="#000" stroke-width="1.40"/>
<line x1="138.05" y1="323.10" x2="143.65" y2="323.10" stroke="#000" stroke-width="1.70"/>
<line x1="140.85" y1="364.20" x2="140.85" y2="367.68" stroke="#000" stroke-width="1.40"/>
<line x1="138.05" y1="364.20" x2="143.65" y2="364.20" stroke="#000" stroke-width="1.70"/>
<line x1="80.00" y1="359.20" x2="145.40" y2="359.20" stroke="#000" stroke-width="1.50" stroke-dasharray="1.4,1.9"/>
<line x1="75.40" y1="315.40" x2="75.40" y2="390.20" stroke="#000" stroke-width="1.50"/>
<line x1="74.65" y1="389.50" x2="148.20" y2="389.50" stroke="#000" stroke-width="1.50"/>
<line x1="71.60" y1="389.50" x2="75.40" y2="389.50" stroke="#000" stroke-width="1.50"/>
<text x="71.10" y="392.75" font-size="9.30" text-anchor="end" textLength="5.30" lengthAdjust="spacingAndGlyphs">0</text>
<line x1="71.60" y1="374.23" x2="75.40" y2="374.23" stroke="#000" stroke-width="1.50"/>
<text x="71.10" y="377.48" font-size="9.30" text-anchor="end" textLength="10.40" lengthAdjust="spacingAndGlyphs">25</text>
<line x1="71.60" y1="358.95" x2="75.40" y2="358.95" stroke="#000" stroke-width="1.50"/>
<text x="71.10" y="362.20" font-size="9.30" text-anchor="end" textLength="10.40" lengthAdjust="spacingAndGlyphs">50</text>
<line x1="71.60" y1="343.67" x2="75.40" y2="343.67" stroke="#000" stroke-width="1.50"/>
<text x="71.10" y="346.92" font-size="9.30" text-anchor="end" textLength="10.40" lengthAdjust="spacingAndGlyphs">75</text>
<line x1="71.60" y1="328.40" x2="75.40" y2="328.40" stroke="#000" stroke-width="1.50"/>
<text x="71.10" y="331.65" font-size="9.30" text-anchor="end" textLength="15.00" lengthAdjust="spacingAndGlyphs">100</text>
<line x1="84.50" y1="389.50" x2="84.50" y2="392.90" stroke="#000" stroke-width="1.30"/>
<line x1="98.40" y1="389.50" x2="98.40" y2="392.90" stroke="#000" stroke-width="1.30"/>
<line x1="112.50" y1="389.50" x2="112.50" y2="392.90" stroke="#000" stroke-width="1.30"/>
<line x1="126.60" y1="389.50" x2="126.60" y2="392.90" stroke="#000" stroke-width="1.30"/>
<line x1="140.85" y1="389.50" x2="140.85" y2="392.90" stroke="#000" stroke-width="1.30"/>
<text x="0.00" y="0.00" font-size="11.00" text-anchor="middle" textLength="33.00" lengthAdjust="spacingAndGlyphs" stroke="#000" stroke-width="0.35" transform="translate(56.30,353.20) rotate(-90)">Chimerism</text>
<text x="83.80" y="400.80" font-size="8.40" text-anchor="middle" textLength="4.90" lengthAdjust="spacingAndGlyphs">4</text>
<text x="97.30" y="400.80" font-size="8.40" text-anchor="middle" textLength="4.90" lengthAdjust="spacingAndGlyphs">8</text>
<text x="112.10" y="400.80" font-size="8.40" text-anchor="middle" textLength="10.00" lengthAdjust="spacingAndGlyphs">12</text>
<text x="125.90" y="400.80" font-size="8.40" text-anchor="middle" textLength="10.00" lengthAdjust="spacingAndGlyphs">16</text>
<text x="139.15" y="400.80" font-size="8.40" text-anchor="middle" textLength="10.00" lengthAdjust="spacingAndGlyphs">20</text>
<text x="75.50" y="411.00" font-size="9.60" textLength="70.30" lengthAdjust="spacingAndGlyphs" stroke="#000" stroke-width="0.4">Weeks Post Transplant</text>
<rect x="185.50" y="327.75" width="9.50" height="46.31" fill="#134f81"/>
<rect x="185.50" y="374.06" width="9.50" height="15.34" fill="#c41f32"/>
<rect x="199.40" y="327.75" width="9.60" height="51.45" fill="#134f81"/>
<rect x="199.40" y="379.20" width="9.60" height="10.20" fill="#c41f32"/>
<rect x="213.50" y="327.75" width="9.50" height="52.48" fill="#134f81"/>
<rect x="213.50" y="380.23" width="9.50" height="9.17" fill="#c41f32"/>
<line x1="190.25" y1="327.75" x2="190.25" y2="323.50" stroke="#000" stroke-width="1.40"/>
<line x1="187.45" y1="323.50" x2="193.05" y2="323.50" stroke="#000" stroke-width="1.70"/>
<line x1="190.25" y1="367.60" x2="190.25" y2="374.36" stroke="#000" stroke-width="1.40"/>
<line x1="187.45" y1="367.60" x2="193.05" y2="367.60" stroke="#000" stroke-width="1.70"/>
<line x1="204.20" y1="327.75" x2="204.20" y2="323.50" stroke="#000" stroke-width="1.40"/>
<line x1="201.40" y1="323.50" x2="207.00" y2="323.50" stroke="#000" stroke-width="1.70"/>
<line x1="204.20" y1="375.50" x2="204.20" y2="379.50" stroke="#000" stroke-width="1.40"/>
<line x1="201.40" y1="375.50" x2="207.00" y2="375.50" stroke="#000" stroke-width="1.70"/>
<line x1="218.25" y1="327.75" x2="218.25" y2="320.40" stroke="#000" stroke-width="1.40"/>
<line x1="215.45" y1="320.40" x2="221.05" y2="320.40" stroke="#000" stroke-width="1.70"/>
<line x1="218.25" y1="374.60" x2="218.25" y2="380.53" stroke="#000" stroke-width="1.40"/>
<line x1="215.45" y1="374.60" x2="221.05" y2="374.60" stroke="#000" stroke-width="1.70"/>
<line x1="186.80" y1="359.10" x2="224.50" y2="359.10" stroke="#000" stroke-width="1.50" stroke-dasharray="1.4,1.9"/>
<line x1="181.40" y1="315.40" x2="181.40" y2="390.10" stroke="#000" stroke-width="1.50"/>
<line x1="180.65" y1="389.40" x2="233.30" y2="389.40" stroke="#000" stroke-width="1.50"/>
<line x1="177.60" y1="389.40" x2="181.40" y2="389.40" stroke="#000" stroke-width="1.50"/>
<text x="177.10" y="392.65" font-size="9.30" text-anchor="end" textLength="5.30" lengthAdjust="spacingAndGlyphs">0</text>
<line x1="177.60" y1="374.12" x2="181.40" y2="374.12" stroke="#000" stroke-width="1.50"/>
<text x="177.10" y="377.38" font-size="9.30" text-anchor="end" textLength="10.40" lengthAdjust="spacingAndGlyphs">25</text>
<line x1="177.60" y1="358.85" x2="181.40" y2="358.85" stroke="#000" stroke-width="1.50"/>
<text x="177.10" y="362.10" font-size="9.30" text-anchor="end" textLength="10.40" lengthAdjust="spacingAndGlyphs">50</text>
<line x1="177.60" y1="343.57" x2="181.40" y2="343.57" stroke="#000" stroke-width="1.50"/>
<text x="177.10" y="346.82" font-size="9.30" text-anchor="end" textLength="10.40" lengthAdjust="spacingAndGlyphs">75</text>
<line x1="177.60" y1="328.30" x2="181.40" y2="328.30" stroke="#000" stroke-width="1.50"/>
<text x="177.10" y="331.55" font-size="9.30" text-anchor="end" textLength="15.00" lengthAdjust="spacingAndGlyphs">100</text>
<line x1="190.25" y1="389.40" x2="190.25" y2="392.80" stroke="#000" stroke-width="1.30"/>
<line x1="204.20" y1="389.40" x2="204.20" y2="392.80" stroke="#000" stroke-width="1.30"/>
<line x1="218.25" y1="389.40" x2="218.25" y2="392.80" stroke="#000" stroke-width="1.30"/>
<text x="0.00" y="0.00" font-size="11.00" text-anchor="middle" textLength="33.00" lengthAdjust="spacingAndGlyphs" stroke="#000" stroke-width="0.35" transform="translate(161.80,353.50) rotate(-90)">Chimerism</text>
<text x="0.00" y="0.00" font-size="9.30" text-anchor="end" transform="translate(195.95,399.00) rotate(-42)">MPP</text>
<text x="0.00" y="0.00" font-size="9.30" text-anchor="end" transform="translate(211.25,398.30) rotate(-42)">ST-HSC</text>
<text x="0.00" y="0.00" font-size="9.30" text-anchor="end" transform="translate(224.20,398.70) rotate(-42)">LT-HSC</text>
<text x="186.80" y="430.50" font-size="9.70" textLength="31.40" lengthAdjust="spacingAndGlyphs" stroke="#000" stroke-width="0.4">Population</text>
<rect x="274.40" y="327.85" width="9.50" height="38.62" fill="#134f81"/>
<rect x="274.40" y="366.47" width="9.50" height="23.03" fill="#c41f32"/>
<rect x="288.50" y="327.85" width="9.50" height="42.10" fill="#134f81"/>
<rect x="288.50" y="369.95" width="9.50" height="19.55" fill="#c41f32"/>
<rect x="302.40" y="327.85" width="9.50" height="45.52" fill="#134f81"/>
<rect x="302.40" y="373.37" width="9.50" height="16.13" fill="#c41f32"/>
<rect x="316.60" y="327.85" width="9.60" height="48.33" fill="#134f81"/>
<rect x="316.60" y="376.18" width="9.60" height="13.32" fill="#c41f32"/>
<rect x="330.80" y="327.85" width="9.50" height="49.55" fill="#134f81"/>
<rect x="330.80" y="377.40" width="9.50" height="12.10" fill="#c41f32"/>
<line x1="279.15" y1="327.85" x2="279.15" y2="325.00" stroke="#000" stroke-width="1.40"/>
<line x1="276.35" y1="325.00" x2="281.95" y2="325.00" stroke="#000" stroke-width="1.70"/>
<line x1="279.15" y1="364.20" x2="279.15" y2="366.77" stroke="#000" stroke-width="1.40"/>
<line x1="276.35" y1="364.20" x2="281.95" y2="364.20" stroke="#000" stroke-width="1.70"/>
<line x1="293.25" y1="327.85" x2="293.25" y2="326.00" stroke="#000" stroke-width="1.40"/>
<line x1="290.45" y1="326.00" x2="296.05" y2="326.00" stroke="#000" stroke-width="1.70"/>
<line x1="293.25" y1="368.20" x2="293.25" y2="370.25" stroke="#000" stroke-width="1.40"/>
<line x1="290.45" y1="368.20" x2="296.05" y2="368.20" stroke="#000" stroke-width="1.70"/>
<line x1="307.15" y1="327.85" x2="307.15" y2="326.00" stroke="#000" stroke-width="1.40"/>
<line x1="304.35" y1="326.00" x2="309.95" y2="326.00" stroke="#000" stroke-width="1.70"/>
<line x1="307.15" y1="372.00" x2="307.15" y2="373.67" stroke="#000" stroke-width="1.40"/>
<line x1="304.35" y1="372.00" x2="309.95" y2="372.00" stroke="#000" stroke-width="1.70"/>
<line x1="321.40" y1="327.85" x2="321.40" y2="326.00" stroke="#000" stroke-width="1.40"/>
<line x1="318.60" y1="326.00" x2="324.20" y2="326.00" stroke="#000" stroke-width="1.70"/>
<line x1="321.40" y1="374.30" x2="321.40" y2="376.48" stroke="#000" stroke-width="1.40"/>
<line x1="318.60" y1="374.30" x2="324.20" y2="374.30" stroke="#000" stroke-width="1.70"/>
<line x1="335.55" y1="327.85" x2="335.55" y2="325.00" stroke="#000" stroke-width="1.40"/>
<line x1="332.75" y1="325.00" x2="338.35" y2="325.00" stroke="#000" stroke-width="1.70"/>
<line x1="335.55" y1="375.80" x2="335.55" y2="377.70" stroke="#000" stroke-width="1.40"/>
<line x1="332.75" y1="375.80" x2="338.35" y2="375.80" stroke="#000" stroke-width="1.70"/>
<line x1="272.30" y1="366.50" x2="337.70" y2="366.50" stroke="#000" stroke-width="1.50" stroke-dasharray="1.4,1.9"/>
<line x1="271.00" y1="315.40" x2="271.00" y2="390.20" stroke="#000" stroke-width="1.50"/>
<line x1="270.25" y1="389.50" x2="343.80" y2="389.50" stroke="#000" stroke-width="1.50"/>
<line x1="267.20" y1="389.50" x2="271.00" y2="389.50" stroke="#000" stroke-width="1.50"/>
<text x="266.70" y="392.75" font-size="9.30" text-anchor="end" textLength="5.30" lengthAdjust="spacingAndGlyphs">0</text>
<line x1="267.20" y1="374.23" x2="271.00" y2="374.23" stroke="#000" stroke-width="1.50"/>
<text x="266.70" y="377.48" font-size="9.30" text-anchor="end" textLength="10.40" lengthAdjust="spacingAndGlyphs">25</text>
<line x1="267.20" y1="358.95" x2="271.00" y2="358.95" stroke="#000" stroke-width="1.50"/>
<text x="266.70" y="362.20" font-size="9.30" text-anchor="end" textLength="10.40" lengthAdjust="spacingAndGlyphs">50</text>
<line x1="267.20" y1="343.67" x2="271.00" y2="343.67" stroke="#000" stroke-width="1.50"/>
<text x="266.70" y="346.92" font-size="9.30" text-anchor="end" textLength="10.40" lengthAdjust="spacingAndGlyphs">75</text>
<line x1="267.20" y1="328.40" x2="271.00" y2="328.40" stroke="#000" stroke-width="1.50"/>
<text x="266.70" y="331.65" font-size="9.30" text-anchor="end" textLength="15.00" lengthAdjust="spacingAndGlyphs">100</text>
<line x1="279.15" y1="389.50" x2="279.15" y2="392.90" stroke="#000" stroke-width="1.30"/>
<line x1="293.25" y1="389.50" x2="293.25" y2="392.90" stroke="#000" stroke-width="1.30"/>
<line x1="307.15" y1="389.50" x2="307.15" y2="392.90" stroke="#000" stroke-width="1.30"/>
<line x1="321.40" y1="389.50" x2="321.40" y2="392.90" stroke="#000" stroke-width="1.30"/>
<line x1="335.55" y1="389.50" x2="335.55" y2="392.90" stroke="#000" stroke-width="1.30"/>
<text x="0.00" y="0.00" font-size="11.00" text-anchor="middle" textLength="33.00" lengthAdjust="spacingAndGlyphs" stroke="#000" stroke-width="0.35" transform="translate(250.20,353.50) rotate(-90)">Chimerism</text>
<text x="277.95" y="400.80" font-size="8.40" text-anchor="middle" textLength="4.90" lengthAdjust="spacingAndGlyphs">4</text>
<text x="292.25" y="400.80" font-size="8.40" text-anchor="middle" textLength="4.90" lengthAdjust="spacingAndGlyphs">8</text>
<text x="306.25" y="400.80" font-size="8.40" text-anchor="middle" textLength="10.00" lengthAdjust="spacingAndGlyphs">12</text>
<text x="320.20" y="400.80" font-size="8.40" text-anchor="middle" textLength="10.00" lengthAdjust="spacingAndGlyphs">16</text>
<text x="333.65" y="400.80" font-size="8.40" text-anchor="middle" textLength="10.00" lengthAdjust="spacingAndGlyphs">20</text>
<text x="275.30" y="411.00" font-size="9.60" textLength="70.30" lengthAdjust="spacingAndGlyphs" stroke="#000" stroke-width="0.4">Weeks Post Transplant</text>
<rect x="388.90" y="327.95" width="9.60" height="58.40" fill="#134f81"/>
<rect x="388.90" y="386.35" width="9.60" height="3.05" fill="#c41f32"/>
<rect x="402.80" y="327.95" width="9.30" height="57.19" fill="#134f81"/>
<rect x="402.80" y="385.14" width="9.30" height="4.26" fill="#c41f32"/>
<rect x="416.90" y="327.95" width="9.40" height="59.26" fill="#134f81"/>
<rect x="416.90" y="387.21" width="9.40" height="2.19" fill="#c41f32"/>
<line x1="393.70" y1="327.95" x2="393.70" y2="325.00" stroke="#000" stroke-width="1.40"/>
<line x1="390.90" y1="325.00" x2="396.50" y2="325.00" stroke="#000" stroke-width="1.70"/>
<line x1="393.70" y1="384.20" x2="393.70" y2="386.65" stroke="#000" stroke-width="1.40"/>
<line x1="390.90" y1="384.20" x2="396.50" y2="384.20" stroke="#000" stroke-width="1.70"/>
<line x1="407.45" y1="327.95" x2="407.45" y2="324.20" stroke="#000" stroke-width="1.40"/>
<line x1="404.65" y1="324.20" x2="410.25" y2="324.20" stroke="#000" stroke-width="1.70"/>
<line x1="407.45" y1="383.00" x2="407.45" y2="385.44" stroke="#000" stroke-width="1.40"/>
<line x1="404.65" y1="383.00" x2="410.25" y2="383.00" stroke="#000" stroke-width="1.70"/>
<line x1="421.60" y1="327.95" x2="421.60" y2="324.20" stroke="#000" stroke-width="1.40"/>
<line x1="418.80" y1="324.20" x2="424.40" y2="324.20" stroke="#000" stroke-width="1.70"/>
<line x1="421.60" y1="383.50" x2="421.60" y2="387.51" stroke="#000" stroke-width="1.40"/>
<line x1="418.80" y1="383.50" x2="424.40" y2="383.50" stroke="#000" stroke-width="1.70"/>
<line x1="390.80" y1="375.30" x2="403.00" y2="375.30" stroke="#000" stroke-width="1.50" stroke-dasharray="1.4,1.9"/>
<line x1="408.50" y1="380.70" x2="430.80" y2="380.70" stroke="#000" stroke-width="1.50" stroke-dasharray="1.4,1.9"/>
<line x1="384.60" y1="315.50" x2="384.60" y2="390.10" stroke="#000" stroke-width="1.50"/>
<line x1="383.85" y1="389.40" x2="436.90" y2="389.40" stroke="#000" stroke-width="1.50"/>
<line x1="380.80" y1="389.40" x2="384.60" y2="389.40" stroke="#000" stroke-width="1.50"/>
<text x="380.30" y="392.65" font-size="9.30" text-anchor="end" textLength="5.30" lengthAdjust="spacingAndGlyphs">0</text>
<line x1="380.80" y1="374.17" x2="384.60" y2="374.17" stroke="#000" stroke-width="1.50"/>
<text x="380.30" y="377.42" font-size="9.30" text-anchor="end" textLength="10.40" lengthAdjust="spacingAndGlyphs">25</text>
<line x1="380.80" y1="358.95" x2="384.60" y2="358.95" stroke="#000" stroke-width="1.50"/>
<text x="380.30" y="362.20" font-size="9.30" text-anchor="end" textLength="10.40" lengthAdjust="spacingAndGlyphs">50</text>
<line x1="380.80" y1="343.73" x2="384.60" y2="343.73" stroke="#000" stroke-width="1.50"/>
<text x="380.30" y="346.98" font-size="9.30" text-anchor="end" textLength="10.40" lengthAdjust="spacingAndGlyphs">75</text>
<line x1="380.80" y1="328.50" x2="384.60" y2="328.50" stroke="#000" stroke-width="1.50"/>
<text x="380.30" y="331.75" font-size="9.30" text-anchor="end" textLength="15.00" lengthAdjust="spacingAndGlyphs">100</text>
<line x1="393.70" y1="389.40" x2="393.70" y2="392.80" stroke="#000" stroke-width="1.30"/>
<line x1="407.45" y1="389.40" x2="407.45" y2="392.80" stroke="#000" stroke-width="1.30"/>
<line x1="421.60" y1="389.40" x2="421.60" y2="392.80" stroke="#000" stroke-width="1.30"/>
<text x="0.00" y="0.00" font-size="11.00" text-anchor="middle" textLength="33.00" lengthAdjust="spacingAndGlyphs" stroke="#000" stroke-width="0.35" transform="translate(365.50,353.20) rotate(-90)">Chimerism</text>
<text x="0.00" y="0.00" font-size="9.30" text-anchor="end" transform="translate(399.40,399.00) rotate(-42)">MPP</text>
<text x="0.00" y="0.00" font-size="9.30" text-anchor="end" transform="translate(414.50,398.30) rotate(-42)">ST-HSC</text>
<text x="0.00" y="0.00" font-size="9.30" text-anchor="end" transform="translate(427.55,398.70) rotate(-42)">LT-HSC</text>
<text x="390.00" y="430.60" font-size="9.70" textLength="31.40" lengthAdjust="spacingAndGlyphs" stroke="#000" stroke-width="0.4">Population</text>
<rect x="430.50" y="317.30" width="8.50" height="4.20" fill="#c41f32"/>
<text x="442.20" y="321.40" font-size="8.60" textLength="67.60" lengthAdjust="spacingAndGlyphs">Control (CD45.1)</text>
<rect x="430.50" y="327.50" width="8.50" height="4.20" fill="#134f81"/>
<text x="442.20" y="331.70" font-size="8.60" textLength="51.00" lengthAdjust="spacingAndGlyphs">ITP (CD45.2)</text>
<line x1="431.50" y1="339.90" x2="438.00" y2="339.90" stroke="#000" stroke-width="1.30" stroke-dasharray="1.3,1.2"/>
<text x="442.20" y="341.60" font-size="8.60" textLength="57.50" lengthAdjust="spacingAndGlyphs">Expected Ratio</text>
<line x1="8.90" y1="435.85" x2="475.80" y2="435.85" stroke="#000" stroke-width="1.90"/>
<text x="8.80" y="454.10" font-size="13.40" font-weight="bold">D</text>
<text x="20.80" y="482.90" font-size="11.30" textLength="10.50" lengthAdjust="spacingAndGlyphs" stroke="#000" stroke-width="0.3">1:3</text>
<text x="46.70" y="446.80" font-size="10.40" font-weight="bold">i</text>
<text x="161.00" y="446.80" font-size="10.40" font-weight="bold">ii</text>
<text x="247.40" y="446.80" font-size="10.40" font-weight="bold">iii</text>
<text x="362.00" y="446.60" font-size="10.40" font-weight="bold">iv</text>
<rect x="78.10" y="455.64" width="9.50" height="16.01" fill="#134f81"/>
<rect x="78.10" y="471.65" width="9.50" height="46.35" fill="#c41f32"/>
<rect x="92.30" y="455.64" width="9.50" height="16.62" fill="#134f81"/>
<rect x="92.30" y="472.27" width="9.50" height="45.73" fill="#c41f32"/>
<rect x="106.30" y="455.64" width="9.40" height="18.48" fill="#134f81"/>
<rect x="106.30" y="474.12" width="9.40" height="43.88" fill="#c41f32"/>
<rect x="120.40" y="455.64" width="9.50" height="18.48" fill="#134f81"/>
<rect x="120.40" y="474.12" width="9.50" height="43.88" fill="#c41f32"/>
<rect x="134.60" y="455.64" width="9.50" height="18.79" fill="#134f81"/>
<rect x="134.60" y="474.43" width="9.50" height="43.57" fill="#c41f32"/>
<line x1="82.85" y1="455.64" x2="82.85" y2="453.60" stroke="#000" stroke-width="1.40"/>
<line x1="80.05" y1="453.60" x2="85.65" y2="453.60" stroke="#000" stroke-width="1.70"/>
<line x1="82.85" y1="469.30" x2="82.85" y2="471.95" stroke="#000" stroke-width="1.40"/>
<line x1="80.05" y1="469.30" x2="85.65" y2="469.30" stroke="#000" stroke-width="1.70"/>
<line x1="97.05" y1="455.64" x2="97.05" y2="454.50" stroke="#000" stroke-width="1.40"/>
<line x1="94.25" y1="454.50" x2="99.85" y2="454.50" stroke="#000" stroke-width="1.70"/>
<line x1="97.05" y1="469.50" x2="97.05" y2="472.57" stroke="#000" stroke-width="1.40"/>
<line x1="94.25" y1="469.50" x2="99.85" y2="469.50" stroke="#000" stroke-width="1.70"/>
<line x1="111.00" y1="455.64" x2="111.00" y2="452.30" stroke="#000" stroke-width="1.40"/>
<line x1="108.20" y1="452.30" x2="113.80" y2="452.30" stroke="#000" stroke-width="1.70"/>
<line x1="111.00" y1="468.50" x2="111.00" y2="474.42" stroke="#000" stroke-width="1.40"/>
<line x1="108.20" y1="468.50" x2="113.80" y2="468.50" stroke="#000" stroke-width="1.70"/>
<line x1="125.15" y1="455.64" x2="125.15" y2="450.40" stroke="#000" stroke-width="1.40"/>
<line x1="122.35" y1="450.40" x2="127.95" y2="450.40" stroke="#000" stroke-width="1.70"/>
<line x1="125.15" y1="468.00" x2="125.15" y2="474.42" stroke="#000" stroke-width="1.40"/>
<line x1="122.35" y1="468.00" x2="127.95" y2="468.00" stroke="#000" stroke-width="1.70"/>
<line x1="139.35" y1="455.64" x2="139.35" y2="451.50" stroke="#000" stroke-width="1.40"/>
<line x1="136.55" y1="451.50" x2="142.15" y2="451.50" stroke="#000" stroke-width="1.70"/>
<line x1="139.35" y1="468.50" x2="139.35" y2="474.73" stroke="#000" stroke-width="1.40"/>
<line x1="136.55" y1="468.50" x2="142.15" y2="468.50" stroke="#000" stroke-width="1.70"/>
<line x1="78.30" y1="472.60" x2="144.10" y2="472.60" stroke="#000" stroke-width="1.50" stroke-dasharray="1.4,1.9"/>
<line x1="73.80" y1="443.90" x2="73.80" y2="518.70" stroke="#000" stroke-width="1.50"/>
<line x1="73.05" y1="518.00" x2="147.20" y2="518.00" stroke="#000" stroke-width="1.50"/>
<line x1="70.00" y1="518.00" x2="73.80" y2="518.00" stroke="#000" stroke-width="1.50"/>
<text x="69.50" y="521.25" font-size="9.30" text-anchor="end" textLength="5.30" lengthAdjust="spacingAndGlyphs">0</text>
<line x1="70.00" y1="502.55" x2="73.80" y2="502.55" stroke="#000" stroke-width="1.50"/>
<text x="69.50" y="505.80" font-size="9.30" text-anchor="end" textLength="10.40" lengthAdjust="spacingAndGlyphs">25</text>
<line x1="70.00" y1="487.10" x2="73.80" y2="487.10" stroke="#000" stroke-width="1.50"/>
<text x="69.50" y="490.35" font-size="9.30" text-anchor="end" textLength="10.40" lengthAdjust="spacingAndGlyphs">50</text>
<line x1="70.00" y1="471.65" x2="73.80" y2="471.65" stroke="#000" stroke-width="1.50"/>
<text x="69.50" y="474.90" font-size="9.30" text-anchor="end" textLength="10.40" lengthAdjust="spacingAndGlyphs">75</text>
<line x1="70.00" y1="456.20" x2="73.80" y2="456.20" stroke="#000" stroke-width="1.50"/>
<text x="69.50" y="459.45" font-size="9.30" text-anchor="end" textLength="15.00" lengthAdjust="spacingAndGlyphs">100</text>
<line x1="82.85" y1="518.00" x2="82.85" y2="521.40" stroke="#000" stroke-width="1.30"/>
<line x1="97.05" y1="518.00" x2="97.05" y2="521.40" stroke="#000" stroke-width="1.30"/>
<line x1="111.00" y1="518.00" x2="111.00" y2="521.40" stroke="#000" stroke-width="1.30"/>
<line x1="125.15" y1="518.00" x2="125.15" y2="521.40" stroke="#000" stroke-width="1.30"/>
<line x1="139.35" y1="518.00" x2="139.35" y2="521.40" stroke="#000" stroke-width="1.30"/>
<text x="0.00" y="0.00" font-size="11.00" text-anchor="middle" textLength="33.00" lengthAdjust="spacingAndGlyphs" stroke="#000" stroke-width="0.35" transform="translate(54.90,481.80) rotate(-90)">Chimerism</text>
<text x="82.05" y="529.80" font-size="8.40" text-anchor="middle" textLength="4.90" lengthAdjust="spacingAndGlyphs">4</text>
<text x="95.85" y="529.80" font-size="8.40" text-anchor="middle" textLength="4.90" lengthAdjust="spacingAndGlyphs">8</text>
<text x="110.20" y="529.80" font-size="8.40" text-anchor="middle" textLength="10.00" lengthAdjust="spacingAndGlyphs">12</text>
<text x="123.65" y="529.80" font-size="8.40" text-anchor="middle" textLength="10.00" lengthAdjust="spacingAndGlyphs">16</text>
<text x="137.05" y="529.80" font-size="8.40" text-anchor="middle" textLength="10.00" lengthAdjust="spacingAndGlyphs">20</text>
<text x="73.80" y="542.80" font-size="9.60" textLength="70.30" lengthAdjust="spacingAndGlyphs" stroke="#000" stroke-width="0.4">Weeks Post Transplant</text>
<rect x="187.90" y="455.04" width="9.00" height="27.48" fill="#134f81"/>
<rect x="187.90" y="482.53" width="9.00" height="34.97" fill="#c41f32"/>
<rect x="201.90" y="455.04" width="9.10" height="31.51" fill="#134f81"/>
<rect x="201.90" y="486.55" width="9.10" height="30.95" fill="#c41f32"/>
<rect x="216.00" y="455.04" width="9.20" height="30.76" fill="#134f81"/>
<rect x="216.00" y="485.81" width="9.20" height="31.69" fill="#c41f32"/>
<line x1="192.40" y1="455.04" x2="192.40" y2="448.20" stroke="#000" stroke-width="1.40"/>
<line x1="189.60" y1="448.20" x2="195.20" y2="448.20" stroke="#000" stroke-width="1.70"/>
<line x1="192.40" y1="475.80" x2="192.40" y2="482.83" stroke="#000" stroke-width="1.40"/>
<line x1="189.60" y1="475.80" x2="195.20" y2="475.80" stroke="#000" stroke-width="1.70"/>
<line x1="206.45" y1="455.04" x2="206.45" y2="446.40" stroke="#000" stroke-width="1.40"/>
<line x1="203.65" y1="446.40" x2="209.25" y2="446.40" stroke="#000" stroke-width="1.70"/>
<line x1="206.45" y1="478.70" x2="206.45" y2="486.85" stroke="#000" stroke-width="1.40"/>
<line x1="203.65" y1="478.70" x2="209.25" y2="478.70" stroke="#000" stroke-width="1.70"/>
<line x1="220.60" y1="455.04" x2="220.60" y2="443.30" stroke="#000" stroke-width="1.40"/>
<line x1="217.80" y1="443.30" x2="223.40" y2="443.30" stroke="#000" stroke-width="1.70"/>
<line x1="220.60" y1="474.80" x2="220.60" y2="486.11" stroke="#000" stroke-width="1.40"/>
<line x1="217.80" y1="474.80" x2="223.40" y2="474.80" stroke="#000" stroke-width="1.70"/>
<line x1="188.80" y1="470.00" x2="227.20" y2="470.00" stroke="#000" stroke-width="1.50" stroke-dasharray="1.4,1.9"/>
<line x1="183.90" y1="443.30" x2="183.90" y2="518.20" stroke="#000" stroke-width="1.50"/>
<line x1="183.15" y1="517.50" x2="235.50" y2="517.50" stroke="#000" stroke-width="1.50"/>
<line x1="180.10" y1="517.50" x2="183.90" y2="517.50" stroke="#000" stroke-width="1.50"/>
<text x="179.60" y="520.75" font-size="9.30" text-anchor="end" textLength="5.30" lengthAdjust="spacingAndGlyphs">0</text>
<line x1="180.10" y1="502.02" x2="183.90" y2="502.02" stroke="#000" stroke-width="1.50"/>
<text x="179.60" y="505.27" font-size="9.30" text-anchor="end" textLength="10.40" lengthAdjust="spacingAndGlyphs">25</text>
<line x1="180.10" y1="486.55" x2="183.90" y2="486.55" stroke="#000" stroke-width="1.50"/>
<text x="179.60" y="489.80" font-size="9.30" text-anchor="end" textLength="10.40" lengthAdjust="spacingAndGlyphs">50</text>
<line x1="180.10" y1="471.08" x2="183.90" y2="471.08" stroke="#000" stroke-width="1.50"/>
<text x="179.60" y="474.33" font-size="9.30" text-anchor="end" textLength="10.40" lengthAdjust="spacingAndGlyphs">75</text>
<line x1="180.10" y1="455.60" x2="183.90" y2="455.60" stroke="#000" stroke-width="1.50"/>
<text x="179.60" y="458.85" font-size="9.30" text-anchor="end" textLength="15.00" lengthAdjust="spacingAndGlyphs">100</text>
<line x1="192.40" y1="517.50" x2="192.40" y2="520.90" stroke="#000" stroke-width="1.30"/>
<line x1="206.45" y1="517.50" x2="206.45" y2="520.90" stroke="#000" stroke-width="1.30"/>
<line x1="220.60" y1="517.50" x2="220.60" y2="520.90" stroke="#000" stroke-width="1.30"/>
<text x="0.00" y="0.00" font-size="11.00" text-anchor="middle" textLength="33.00" lengthAdjust="spacingAndGlyphs" stroke="#000" stroke-width="0.35" transform="translate(165.00,482.10) rotate(-90)">Chimerism</text>
<text x="0.00" y="0.00" font-size="9.30" text-anchor="end" transform="translate(198.10,527.10) rotate(-42)">MPP</text>
<text x="0.00" y="0.00" font-size="9.30" text-anchor="end" transform="translate(213.50,526.40) rotate(-42)">ST-HSC</text>
<text x="0.00" y="0.00" font-size="9.30" text-anchor="end" transform="translate(226.55,526.80) rotate(-42)">LT-HSC</text>
<text x="188.50" y="559.30" font-size="9.70" textLength="31.40" lengthAdjust="spacingAndGlyphs" stroke="#000" stroke-width="0.4">Population</text>
<rect x="280.00" y="456.05" width="9.40" height="18.91" fill="#134f81"/>
<rect x="280.00" y="474.96" width="9.40" height="42.84" fill="#c41f32"/>
<rect x="293.90" y="456.05" width="9.30" height="19.52" fill="#134f81"/>
<rect x="293.90" y="475.57" width="9.30" height="42.23" fill="#c41f32"/>
<rect x="308.00" y="456.05" width="9.30" height="19.52" fill="#134f81"/>
<rect x="308.00" y="475.57" width="9.30" height="42.23" fill="#c41f32"/>
<rect x="321.90" y="456.05" width="9.30" height="19.83" fill="#134f81"/>
<rect x="321.90" y="475.88" width="9.30" height="41.92" fill="#c41f32"/>
<rect x="336.30" y="456.05" width="9.30" height="19.52" fill="#134f81"/>
<rect x="336.30" y="475.57" width="9.30" height="42.23" fill="#c41f32"/>
<line x1="284.70" y1="456.05" x2="284.70" y2="453.20" stroke="#000" stroke-width="1.40"/>
<line x1="281.90" y1="453.20" x2="287.50" y2="453.20" stroke="#000" stroke-width="1.70"/>
<line x1="284.70" y1="472.20" x2="284.70" y2="475.26" stroke="#000" stroke-width="1.40"/>
<line x1="281.90" y1="472.20" x2="287.50" y2="472.20" stroke="#000" stroke-width="1.70"/>
<line x1="298.55" y1="456.05" x2="298.55" y2="453.20" stroke="#000" stroke-width="1.40"/>
<line x1="295.75" y1="453.20" x2="301.35" y2="453.20" stroke="#000" stroke-width="1.70"/>
<line x1="298.55" y1="472.50" x2="298.55" y2="475.87" stroke="#000" stroke-width="1.40"/>
<line x1="295.75" y1="472.50" x2="301.35" y2="472.50" stroke="#000" stroke-width="1.70"/>
<line x1="312.65" y1="456.05" x2="312.65" y2="453.50" stroke="#000" stroke-width="1.40"/>
<line x1="309.85" y1="453.50" x2="315.45" y2="453.50" stroke="#000" stroke-width="1.70"/>
<line x1="312.65" y1="472.80" x2="312.65" y2="475.87" stroke="#000" stroke-width="1.40"/>
<line x1="309.85" y1="472.80" x2="315.45" y2="472.80" stroke="#000" stroke-width="1.70"/>
<line x1="326.55" y1="456.05" x2="326.55" y2="453.20" stroke="#000" stroke-width="1.40"/>
<line x1="323.75" y1="453.20" x2="329.35" y2="453.20" stroke="#000" stroke-width="1.70"/>
<line x1="326.55" y1="473.20" x2="326.55" y2="476.18" stroke="#000" stroke-width="1.40"/>
<line x1="323.75" y1="473.20" x2="329.35" y2="473.20" stroke="#000" stroke-width="1.70"/>
<line x1="340.95" y1="456.05" x2="340.95" y2="453.20" stroke="#000" stroke-width="1.40"/>
<line x1="338.15" y1="453.20" x2="343.75" y2="453.20" stroke="#000" stroke-width="1.70"/>
<line x1="340.95" y1="472.80" x2="340.95" y2="475.87" stroke="#000" stroke-width="1.40"/>
<line x1="338.15" y1="472.80" x2="343.75" y2="472.80" stroke="#000" stroke-width="1.70"/>
<line x1="277.80" y1="475.20" x2="346.10" y2="475.20" stroke="#000" stroke-width="1.50" stroke-dasharray="1.4,1.9"/>
<line x1="275.60" y1="443.60" x2="275.60" y2="518.50" stroke="#000" stroke-width="1.50"/>
<line x1="274.85" y1="517.80" x2="348.90" y2="517.80" stroke="#000" stroke-width="1.50"/>
<line x1="271.80" y1="517.80" x2="275.60" y2="517.80" stroke="#000" stroke-width="1.50"/>
<text x="271.30" y="521.05" font-size="9.30" text-anchor="end" textLength="5.30" lengthAdjust="spacingAndGlyphs">0</text>
<line x1="271.80" y1="502.50" x2="275.60" y2="502.50" stroke="#000" stroke-width="1.50"/>
<text x="271.30" y="505.75" font-size="9.30" text-anchor="end" textLength="10.40" lengthAdjust="spacingAndGlyphs">25</text>
<line x1="271.80" y1="487.20" x2="275.60" y2="487.20" stroke="#000" stroke-width="1.50"/>
<text x="271.30" y="490.45" font-size="9.30" text-anchor="end" textLength="10.40" lengthAdjust="spacingAndGlyphs">50</text>
<line x1="271.80" y1="471.90" x2="275.60" y2="471.90" stroke="#000" stroke-width="1.50"/>
<text x="271.30" y="475.15" font-size="9.30" text-anchor="end" textLength="10.40" lengthAdjust="spacingAndGlyphs">75</text>
<line x1="271.80" y1="456.60" x2="275.60" y2="456.60" stroke="#000" stroke-width="1.50"/>
<text x="271.30" y="459.85" font-size="9.30" text-anchor="end" textLength="15.00" lengthAdjust="spacingAndGlyphs">100</text>
<line x1="284.70" y1="517.80" x2="284.70" y2="521.20" stroke="#000" stroke-width="1.30"/>
<line x1="298.55" y1="517.80" x2="298.55" y2="521.20" stroke="#000" stroke-width="1.30"/>
<line x1="312.65" y1="517.80" x2="312.65" y2="521.20" stroke="#000" stroke-width="1.30"/>
<line x1="326.55" y1="517.80" x2="326.55" y2="521.20" stroke="#000" stroke-width="1.30"/>
<line x1="340.95" y1="517.80" x2="340.95" y2="521.20" stroke="#000" stroke-width="1.30"/>
<text x="0.00" y="0.00" font-size="11.00" text-anchor="middle" textLength="33.00" lengthAdjust="spacingAndGlyphs" stroke="#000" stroke-width="0.35" transform="translate(256.00,482.50) rotate(-90)">Chimerism</text>
<text x="283.90" y="529.80" font-size="8.40" text-anchor="middle" textLength="4.90" lengthAdjust="spacingAndGlyphs">4</text>
<text x="297.85" y="529.80" font-size="8.40" text-anchor="middle" textLength="4.90" lengthAdjust="spacingAndGlyphs">8</text>
<text x="312.65" y="529.80" font-size="8.40" text-anchor="middle" textLength="10.00" lengthAdjust="spacingAndGlyphs">12</text>
<text x="325.85" y="529.80" font-size="8.40" text-anchor="middle" textLength="10.00" lengthAdjust="spacingAndGlyphs">16</text>
<text x="339.45" y="529.80" font-size="8.40" text-anchor="middle" textLength="10.00" lengthAdjust="spacingAndGlyphs">20</text>
<text x="283.50" y="543.20" font-size="9.60" textLength="70.30" lengthAdjust="spacingAndGlyphs" stroke="#000" stroke-width="0.4">Weeks Post Transplant</text>
<rect x="394.30" y="454.94" width="9.50" height="35.16" fill="#134f81"/>
<rect x="394.30" y="490.11" width="9.50" height="27.19" fill="#c41f32"/>
<rect x="408.50" y="454.94" width="9.50" height="35.16" fill="#134f81"/>
<rect x="408.50" y="490.11" width="9.50" height="27.19" fill="#c41f32"/>
<rect x="422.60" y="454.94" width="9.40" height="36.59" fill="#134f81"/>
<rect x="422.60" y="491.53" width="9.40" height="25.77" fill="#c41f32"/>
<line x1="399.05" y1="454.94" x2="399.05" y2="446.80" stroke="#000" stroke-width="1.40"/>
<line x1="396.25" y1="446.80" x2="401.85" y2="446.80" stroke="#000" stroke-width="1.70"/>
<line x1="399.05" y1="482.40" x2="399.05" y2="490.41" stroke="#000" stroke-width="1.40"/>
<line x1="396.25" y1="482.40" x2="401.85" y2="482.40" stroke="#000" stroke-width="1.70"/>
<line x1="413.25" y1="454.94" x2="413.25" y2="450.40" stroke="#000" stroke-width="1.40"/>
<line x1="410.45" y1="450.40" x2="416.05" y2="450.40" stroke="#000" stroke-width="1.70"/>
<line x1="413.25" y1="485.50" x2="413.25" y2="490.41" stroke="#000" stroke-width="1.40"/>
<line x1="410.45" y1="485.50" x2="416.05" y2="485.50" stroke="#000" stroke-width="1.70"/>
<line x1="427.30" y1="454.94" x2="427.30" y2="448.50" stroke="#000" stroke-width="1.40"/>
<line x1="424.50" y1="448.50" x2="430.10" y2="448.50" stroke="#000" stroke-width="1.70"/>
<line x1="427.30" y1="485.20" x2="427.30" y2="491.83" stroke="#000" stroke-width="1.40"/>
<line x1="424.50" y1="485.20" x2="430.10" y2="485.20" stroke="#000" stroke-width="1.70"/>
<line x1="394.30" y1="482.70" x2="399.50" y2="482.70" stroke="#000" stroke-width="1.50" stroke-dasharray="1.4,1.9"/>
<line x1="408.50" y1="485.30" x2="432.00" y2="485.30" stroke="#000" stroke-width="1.50" stroke-dasharray="1.4,1.9"/>
<line x1="390.30" y1="443.50" x2="390.30" y2="518.00" stroke="#000" stroke-width="1.50"/>
<line x1="389.55" y1="517.30" x2="442.30" y2="517.30" stroke="#000" stroke-width="1.50"/>
<line x1="386.50" y1="517.30" x2="390.30" y2="517.30" stroke="#000" stroke-width="1.50"/>
<text x="386.00" y="520.55" font-size="9.30" text-anchor="end" textLength="5.30" lengthAdjust="spacingAndGlyphs">0</text>
<line x1="386.50" y1="501.85" x2="390.30" y2="501.85" stroke="#000" stroke-width="1.50"/>
<text x="386.00" y="505.10" font-size="9.30" text-anchor="end" textLength="10.40" lengthAdjust="spacingAndGlyphs">25</text>
<line x1="386.50" y1="486.40" x2="390.30" y2="486.40" stroke="#000" stroke-width="1.50"/>
<text x="386.00" y="489.65" font-size="9.30" text-anchor="end" textLength="10.40" lengthAdjust="spacingAndGlyphs">50</text>
<line x1="386.50" y1="470.95" x2="390.30" y2="470.95" stroke="#000" stroke-width="1.50"/>
<text x="386.00" y="474.20" font-size="9.30" text-anchor="end" textLength="10.40" lengthAdjust="spacingAndGlyphs">75</text>
<line x1="386.50" y1="455.50" x2="390.30" y2="455.50" stroke="#000" stroke-width="1.50"/>
<text x="386.00" y="458.75" font-size="9.30" text-anchor="end" textLength="15.00" lengthAdjust="spacingAndGlyphs">100</text>
<line x1="399.05" y1="517.30" x2="399.05" y2="520.70" stroke="#000" stroke-width="1.30"/>
<line x1="413.25" y1="517.30" x2="413.25" y2="520.70" stroke="#000" stroke-width="1.30"/>
<line x1="427.30" y1="517.30" x2="427.30" y2="520.70" stroke="#000" stroke-width="1.30"/>
<text x="0.00" y="0.00" font-size="11.00" text-anchor="middle" textLength="33.00" lengthAdjust="spacingAndGlyphs" stroke="#000" stroke-width="0.35" transform="translate(371.50,482.20) rotate(-90)">Chimerism</text>
<text x="0.00" y="0.00" font-size="9.30" text-anchor="end" transform="translate(404.75,526.90) rotate(-42)">MPP</text>
<text x="0.00" y="0.00" font-size="9.30" text-anchor="end" transform="translate(420.30,526.20) rotate(-42)">ST-HSC</text>
<text x="0.00" y="0.00" font-size="9.30" text-anchor="end" transform="translate(433.25,526.60) rotate(-42)">LT-HSC</text>
<text x="396.30" y="559.30" font-size="9.70" textLength="31.40" lengthAdjust="spacingAndGlyphs" stroke="#000" stroke-width="0.4">Population</text>
<rect x="435.80" y="442.70" width="8.50" height="4.20" fill="#c41f32"/>
<text x="447.50" y="446.80" font-size="8.60" textLength="66.70" lengthAdjust="spacingAndGlyphs">Control (CD45.1)</text>
<rect x="435.80" y="452.90" width="8.50" height="4.20" fill="#134f81"/>
<text x="447.50" y="457.10" font-size="8.60" textLength="50.70" lengthAdjust="spacingAndGlyphs">ITP (CD45.2)</text>
<line x1="436.80" y1="465.30" x2="443.30" y2="465.30" stroke="#000" stroke-width="1.30" stroke-dasharray="1.3,1.2"/>
<text x="447.50" y="467.00" font-size="8.60" textLength="57.60" lengthAdjust="spacingAndGlyphs">Expected Ratio</text>
<text x="7.60" y="573.20" font-size="13.40" font-weight="bold">E</text>
<g transform="translate(46.00,569.50) scale(1.000)">
<path d="M19.6,11.4 C15,10.2 11,9.2 8.3,9.0 C6.5,8.6 5.3,8.3 4.2,8.5 C0.8,9.3 -0.6,12.5 1.2,14.8 C2.8,16.8 5.6,18.2 7,21.2" fill="none" stroke="#c41f38" stroke-width="1.3" stroke-linecap="round"/>
<path d="M18.4,9.8 C18.3,7.4 19.2,5.2 21,3.5 C22.8,1.9 25,0.8 28.5,0.2 C31.5,-0.1 35,0.4 38.1,1.2 C39.8,1.8 41,2.5 42.1,3.2 C43.2,4.0 44,4.7 45,5.2 C46.2,5.8 47.5,6.1 48.5,6.1 L50.8,5.8 L52.8,3.0 L54.0,4.3 L54.2,7.2 C55,8.4 55.8,9.6 56.5,10.7 C57.4,12 58.2,13.2 58.8,14.2 C59.4,15.1 59.8,15.8 60,16.5 L58.8,17.3 C57.5,17.6 56.4,17.8 55.4,17.9 L51.9,18.5 L49.6,19.6 L50.2,21.1 L53.1,21.7 L55.3,22.6 L52.5,23.4 L49.6,22.5 L47.3,21.1 L45,20.8 L43.8,22.2 L46.2,24 L48.5,25.1 L46.7,26.3 L44.4,26.3 L43.3,24.5 L42.1,22.2 L39.8,20.5 L37.5,19.6 L34.6,19.9 L34.3,20.2 L32.5,21.6 L31.2,21.0 L30.2,21.6 L29.0,21.2 L27.9,22.0 L27.3,19.1 C26.5,18.6 26,18.4 25.6,18.2 C24.4,17.6 23.4,17.2 22.7,16.5 C22.2,15.8 21.9,15.1 21.6,14.5 C20.9,13.8 20.3,13.3 19.8,12.7 Z" fill="#c41f38"/>
<path d="M47.2,7.6 C44.8,6.4 43.2,8.6 45.0,11.3 M46.0,8.4 C47.2,8.8 47.6,10.0 47.0,11.0" fill="none" stroke="#000" stroke-opacity="0.25" stroke-width="0.55"/>
<ellipse cx="54.8" cy="13.6" rx="0.8" ry="0.6" fill="#000" fill-opacity="0.4"/>
</g>
<text x="63.70" y="612.20" font-size="10.20" textLength="36.00" lengthAdjust="spacingAndGlyphs">Control</text>
<line x1="130.40" y1="590.30" x2="183.50" y2="590.30" stroke="#000" stroke-width="1.50"/>
<path d="M188.00,590.30 L183.00,587.70 L183.00,592.90 Z" fill="#000"/>
<g transform="translate(194.60,570.80) scale(1.140)" fill="none" stroke="#3a3a3a" stroke-width="0.72" stroke-linejoin="round">
<path d="M19.6,11.4 C15,10.2 11,9.2 8.3,9.0 C6.5,8.6 5.3,8.3 4.2,8.5 C0.8,9.3 -0.6,12.5 1.2,14.8 C2.8,16.8 5.6,18.2 7,21.2" stroke-width="1.45"/>
<path d="M15.5,10.2 C12,9.0 8,7.8 4.4,8.6 C1.4,9.4 0.2,12.2 1.6,14.4 C2.8,16.2 4.4,17.4 5.4,18.6" stroke="#fff" stroke-width="0.6"/>
<path d="M18.4,9.8 C18.3,7.4 19.2,5.2 21,3.5 C22.8,1.9 25,0.8 28.5,0.2 C31.5,-0.1 35,0.4 38.1,1.2 C39.8,1.8 41,2.5 42.1,3.2 C43.2,4.0 44,4.7 45,5.2 C46.2,5.8 47.5,6.1 48.5,6.1 L50.8,5.8 L52.8,3.0 L54.0,4.3 L54.2,7.2 C55,8.4 55.8,9.6 56.5,10.7 C57.4,12 58.2,13.2 58.8,14.2 C59.4,15.1 59.8,15.8 60,16.5 L58.8,17.3 C57.5,17.6 56.4,17.8 55.4,17.9 L51.9,18.5 L49.6,19.6 L50.2,21.1 L53.1,21.7 L55.3,22.6 L52.5,23.4 L49.6,22.5 L47.3,21.1 L45,20.8 L43.8,22.2 L46.2,24 L48.5,25.1 L46.7,26.3 L44.4,26.3 L43.3,24.5 L42.1,22.2 L39.8,20.5 L37.5,19.6 L34.6,19.9 L34.3,20.2 L32.5,21.6 L31.2,21.0 L30.2,21.6 L29.0,21.2 L27.9,22.0 L27.3,19.1 C26.5,18.6 26,18.4 25.6,18.2 C24.4,17.6 23.4,17.2 22.7,16.5 C22.2,15.8 21.9,15.1 21.6,14.5 C20.9,13.8 20.3,13.3 19.8,12.7 Z" fill="#fff"/>
<path d="M46.8,6.8 C43.8,6.8 43.0,9.8 45.0,11.6 M45.4,9.0 C46.4,9.4 46.6,10.6 46.2,11.4"/>
<path d="M44.5,15.5 C45.5,18.0 47.5,19.5 50.6,20.0"/>
<circle cx="54.8" cy="13.6" r="0.6" fill="#333"/>
</g>
<text x="178.00" y="613.40" font-size="10.20" textLength="29.30" lengthAdjust="spacingAndGlyphs">B6-W</text>
<text x="207.40" y="609.30" font-size="8.30" textLength="9.00" lengthAdjust="spacingAndGlyphs">41</text>
<text x="221.10" y="613.40" font-size="10.20" textLength="15.20" lengthAdjust="spacingAndGlyphs">/W</text>
<text x="237.40" y="609.30" font-size="8.30" textLength="9.00" lengthAdjust="spacingAndGlyphs">41</text>
<text x="250.60" y="613.40" font-size="10.20" textLength="45.00" lengthAdjust="spacingAndGlyphs">Recipient</text>
<text x="97.40" y="623.90" font-size="10.20" textLength="50.70" lengthAdjust="spacingAndGlyphs">Per group:</text>
<text x="97.40" y="639.30" font-size="10.20" textLength="125.60" lengthAdjust="spacingAndGlyphs">5 mice, 10 LT-HSCs each</text>
<text x="95.80" y="653.60" font-size="10.20" textLength="128.20" lengthAdjust="spacingAndGlyphs">8-9 mice, 3 LT-HSCs each</text>
<g transform="translate(46.00,662.50) scale(1.000)">
<path d="M19.6,11.4 C15,10.2 11,9.2 8.3,9.0 C6.5,8.6 5.3,8.3 4.2,8.5 C0.8,9.3 -0.6,12.5 1.2,14.8 C2.8,16.8 5.6,18.2 7,21.2" fill="none" stroke="#115683" stroke-width="1.3" stroke-linecap="round"/>
<path d="M18.4,9.8 C18.3,7.4 19.2,5.2 21,3.5 C22.8,1.9 25,0.8 28.5,0.2 C31.5,-0.1 35,0.4 38.1,1.2 C39.8,1.8 41,2.5 42.1,3.2 C43.2,4.0 44,4.7 45,5.2 C46.2,5.8 47.5,6.1 48.5,6.1 L50.8,5.8 L52.8,3.0 L54.0,4.3 L54.2,7.2 C55,8.4 55.8,9.6 56.5,10.7 C57.4,12 58.2,13.2 58.8,14.2 C59.4,15.1 59.8,15.8 60,16.5 L58.8,17.3 C57.5,17.6 56.4,17.8 55.4,17.9 L51.9,18.5 L49.6,19.6 L50.2,21.1 L53.1,21.7 L55.3,22.6 L52.5,23.4 L49.6,22.5 L47.3,21.1 L45,20.8 L43.8,22.2 L46.2,24 L48.5,25.1 L46.7,26.3 L44.4,26.3 L43.3,24.5 L42.1,22.2 L39.8,20.5 L37.5,19.6 L34.6,19.9 L34.3,20.2 L32.5,21.6 L31.2,21.0 L30.2,21.6 L29.0,21.2 L27.9,22.0 L27.3,19.1 C26.5,18.6 26,18.4 25.6,18.2 C24.4,17.6 23.4,17.2 22.7,16.5 C22.2,15.8 21.9,15.1 21.6,14.5 C20.9,13.8 20.3,13.3 19.8,12.7 Z" fill="#115683"/>
<path d="M47.2,7.6 C44.8,6.4 43.2,8.6 45.0,11.3 M46.0,8.4 C47.2,8.8 47.6,10.0 47.0,11.0" fill="none" stroke="#000" stroke-opacity="0.25" stroke-width="0.55"/>
<ellipse cx="54.8" cy="13.6" rx="0.8" ry="0.6" fill="#000" fill-opacity="0.4"/>
</g>
<text x="73.80" y="707.00" font-size="10.20" textLength="16.20" lengthAdjust="spacingAndGlyphs">ITP</text>
<line x1="130.50" y1="670.00" x2="183.50" y2="670.00" stroke="#000" stroke-width="1.50"/>
<path d="M188.00,670.00 L183.00,667.40 L183.00,672.60 Z" fill="#000"/>
<g transform="translate(194.70,656.00) scale(1.140)" fill="none" stroke="#3a3a3a" stroke-width="0.72" stroke-linejoin="round">
<path d="M19.6,11.4 C15,10.2 11,9.2 8.3,9.0 C6.5,8.6 5.3,8.3 4.2,8.5 C0.8,9.3 -0.6,12.5 1.2,14.8 C2.8,16.8 5.6,18.2 7,21.2" stroke-width="1.45"/>
<path d="M15.5,10.2 C12,9.0 8,7.8 4.4,8.6 C1.4,9.4 0.2,12.2 1.6,14.4 C2.8,16.2 4.4,17.4 5.4,18.6" stroke="#fff" stroke-width="0.6"/>
<path d="M18.4,9.8 C18.3,7.4 19.2,5.2 21,3.5 C22.8,1.9 25,0.8 28.5,0.2 C31.5,-0.1 35,0.4 38.1,1.2 C39.8,1.8 41,2.5 42.1,3.2 C43.2,4.0 44,4.7 45,5.2 C46.2,5.8 47.5,6.1 48.5,6.1 L50.8,5.8 L52.8,3.0 L54.0,4.3 L54.2,7.2 C55,8.4 55.8,9.6 56.5,10.7 C57.4,12 58.2,13.2 58.8,14.2 C59.4,15.1 59.8,15.8 60,16.5 L58.8,17.3 C57.5,17.6 56.4,17.8 55.4,17.9 L51.9,18.5 L49.6,19.6 L50.2,21.1 L53.1,21.7 L55.3,22.6 L52.5,23.4 L49.6,22.5 L47.3,21.1 L45,20.8 L43.8,22.2 L46.2,24 L48.5,25.1 L46.7,26.3 L44.4,26.3 L43.3,24.5 L42.1,22.2 L39.8,20.5 L37.5,19.6 L34.6,19.9 L34.3,20.2 L32.5,21.6 L31.2,21.0 L30.2,21.6 L29.0,21.2 L27.9,22.0 L27.3,19.1 C26.5,18.6 26,18.4 25.6,18.2 C24.4,17.6 23.4,17.2 22.7,16.5 C22.2,15.8 21.9,15.1 21.6,14.5 C20.9,13.8 20.3,13.3 19.8,12.7 Z" fill="#fff"/>
<path d="M46.8,6.8 C43.8,6.8 43.0,9.8 45.0,11.6 M45.4,9.0 C46.4,9.4 46.6,10.6 46.2,11.4"/>
<path d="M44.5,15.5 C45.5,18.0 47.5,19.5 50.6,20.0"/>
<circle cx="54.8" cy="13.6" r="0.6" fill="#333"/>
</g>
<text x="177.80" y="702.00" font-size="10.20" textLength="29.30" lengthAdjust="spacingAndGlyphs">B6-W</text>
<text x="207.20" y="697.90" font-size="8.30" textLength="9.00" lengthAdjust="spacingAndGlyphs">41</text>
<text x="220.90" y="702.00" font-size="10.20" textLength="15.20" lengthAdjust="spacingAndGlyphs">/W</text>
<text x="237.20" y="697.90" font-size="8.30" textLength="9.00" lengthAdjust="spacingAndGlyphs">41</text>
<text x="250.40" y="702.00" font-size="10.20" textLength="45.00" lengthAdjust="spacingAndGlyphs">Recipient</text>
<g transform="translate(311.00,608.00) scale(1.000)">
<path d="M20.4,0.5 L32.3,4.8 L23.4,9.8 L26.2,11.2 L19.0,16.5 L20.4,17.4 L0.3,25.9 L12.0,13.9 L10.0,13.1 L16.3,7.6 L14.5,6.9 Z" fill="#f7b81c" stroke="#000" stroke-width="1.15" stroke-linejoin="miter"/>
<path d="M0.3,25.9 L7.4,18.6 L11.8,19.8 Z" fill="#000"/>
</g>
<text x="281.00" y="646.70" font-size="10.40" textLength="41.50" lengthAdjust="spacingAndGlyphs">1x3.6Gy</text>
<line x1="336.30" y1="644.10" x2="397.00" y2="644.10" stroke="#000" stroke-width="1.50"/>
<path d="M401.50,644.10 L396.50,641.50 L396.50,646.70 Z" fill="#000"/>
<text x="342.70" y="657.70" font-size="10.20" textLength="48.40" lengthAdjust="spacingAndGlyphs">11 Weeks</text>
<text x="404.40" y="646.30" font-size="10.40" textLength="43.50" lengthAdjust="spacingAndGlyphs">Endpoint</text>
<text x="8.00" y="730.90" font-size="13.40" font-weight="bold">F</text>
<rect x="44.90" y="737.50" width="145.00" height="13.30" fill="#bdbdc1"/>
<g stroke="#000" stroke-width="1.5" fill="none">
<rect x="44.90" y="737.50" width="145.00" height="50.10"/>
<line x1="44.90" y1="750.80" x2="189.90" y2="750.80"/>
<line x1="44.90" y1="763.60" x2="189.90" y2="763.60"/>
<line x1="44.90" y1="776.30" x2="189.90" y2="776.30"/>
<line x1="96.00" y1="737.50" x2="96.00" y2="787.60"/>
<line x1="142.80" y1="750.80" x2="142.80" y2="787.60"/>
</g>
<text x="68.90" y="747.40" font-size="8.40" text-anchor="middle" textLength="28.50" lengthAdjust="spacingAndGlyphs" font-weight="bold">HSC Dose</text>
<text x="142.20" y="746.50" font-size="8.40" text-anchor="middle" textLength="21.60" lengthAdjust="spacingAndGlyphs" font-weight="bold">Positive</text>
<text x="118.80" y="760.20" font-size="8.80" text-anchor="middle" textLength="20.40" lengthAdjust="spacingAndGlyphs" font-weight="bold">Control</text>
<text x="165.80" y="760.20" font-size="8.80" text-anchor="middle" textLength="10.00" lengthAdjust="spacingAndGlyphs" font-weight="bold">ITP</text>
<text x="71.40" y="772.80" font-size="9.60" text-anchor="middle" textLength="3.60" lengthAdjust="spacingAndGlyphs" font-weight="bold">3</text>
<text x="118.80" y="772.80" font-size="9.60" text-anchor="middle" textLength="9.50" lengthAdjust="spacingAndGlyphs" font-weight="bold">2/9</text>
<text x="166.20" y="772.80" font-size="9.60" text-anchor="middle" textLength="9.50" lengthAdjust="spacingAndGlyphs" font-weight="bold">0/8</text>
<text x="71.40" y="785.50" font-size="9.60" text-anchor="middle" textLength="7.60" lengthAdjust="spacingAndGlyphs" font-weight="bold">10</text>
<text x="118.80" y="785.50" font-size="9.60" text-anchor="middle" textLength="12.20" lengthAdjust="spacingAndGlyphs" font-weight="bold">2*/5</text>
<text x="166.20" y="785.50" font-size="9.60" text-anchor="middle" textLength="9.50" lengthAdjust="spacingAndGlyphs" font-weight="bold">0/5</text>
<rect x="0.00" y="0.00" width="520.00" height="1.70" fill="#000"/>
<rect x="0.00" y="0.00" width="1.70" height="797.00" fill="#000"/>
<rect x="518.10" y="0.00" width="1.90" height="797.00" fill="#000"/>
<rect x="0.00" y="795.00" width="520.00" height="2.00" fill="#000"/>
</svg></body></html>
